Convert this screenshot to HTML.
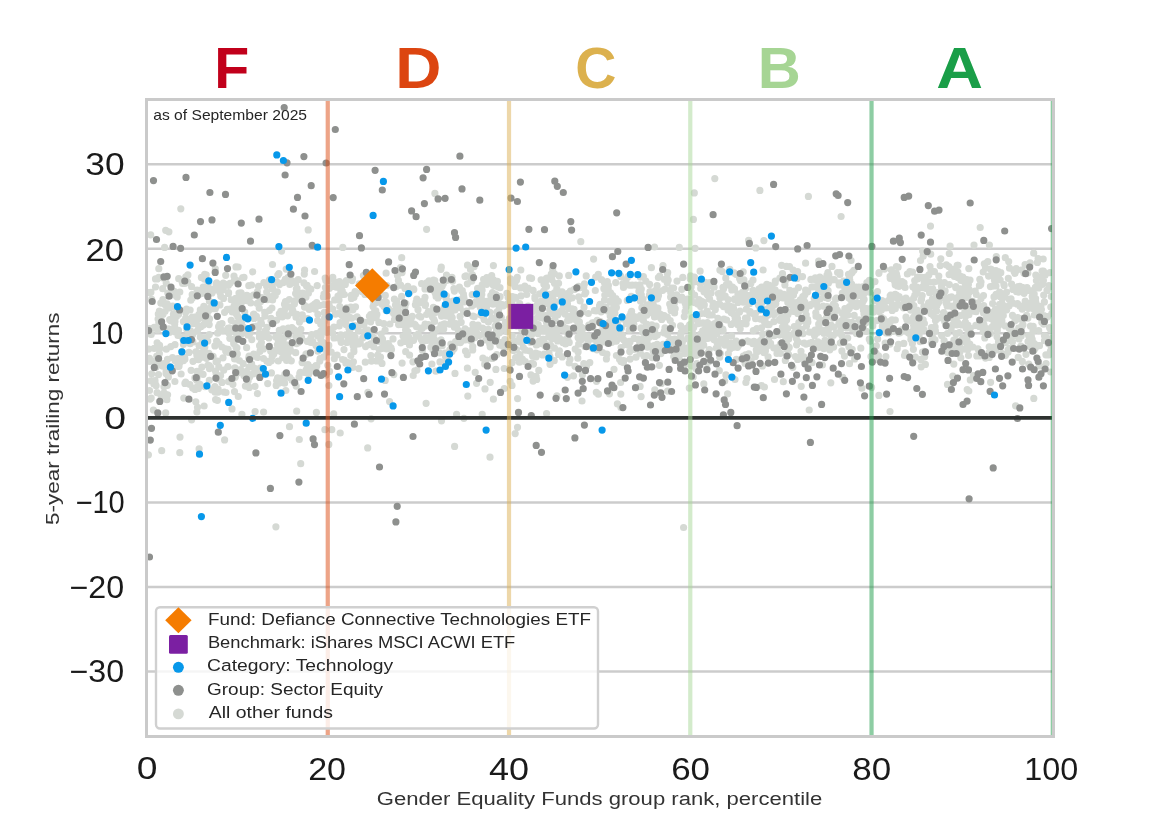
<!DOCTYPE html>
<html><head><meta charset="utf-8"><style>
html,body{margin:0;padding:0;background:#fff;}
svg{display:block;font-family:"Liberation Sans", "DejaVu Sans", sans-serif;}
</style></head><body>
<svg width="1170" height="827" viewBox="0 0 1170 827">
<defs><clipPath id="pc"><rect x="146.5" y="99.5" width="907.0" height="637.0"/></clipPath></defs>
<rect width="1170" height="827" fill="#fff"/>
<line x1="146.5" x2="1053.5" y1="671.49" y2="671.49" stroke="#cccccc" stroke-width="2.5"/>
<line x1="146.5" x2="1053.5" y1="586.96" y2="586.96" stroke="#cccccc" stroke-width="2.5"/>
<line x1="146.5" x2="1053.5" y1="502.43" y2="502.43" stroke="#cccccc" stroke-width="2.5"/>
<line x1="146.5" x2="1053.5" y1="333.37" y2="333.37" stroke="#cccccc" stroke-width="2.5"/>
<line x1="146.5" x2="1053.5" y1="248.84" y2="248.84" stroke="#cccccc" stroke-width="2.5"/>
<line x1="146.5" x2="1053.5" y1="164.31" y2="164.31" stroke="#cccccc" stroke-width="2.5"/>
<g clip-path="url(#pc)" stroke-linecap="round" stroke-width="7.2" fill="none">
<path stroke="#d5d9d4" d="M418.0 309.7h0M659.7 276.2h0M539.4 341.1h0M319.7 305.3h0M316.0 345.4h0M355.1 337.3h0M203.6 351.4h0M1022.4 287.4h0M408.6 337.0h0M234.7 331.8h0M367.9 392.3h0M446.7 314.0h0M762.7 334.0h0M209.2 324.6h0M709.7 282.7h0M956.1 303.5h0M869.7 292.1h0M477.0 333.7h0M768.1 315.1h0M317.9 314.3h0M222.0 382.4h0M644.7 356.5h0M628.6 345.3h0M296.0 317.2h0M885.9 356.6h0M427.2 285.1h0M842.3 340.8h0M351.7 310.0h0M747.5 341.1h0M480.7 314.8h0M422.6 341.7h0M716.7 333.7h0M775.2 282.7h0M173.4 314.4h0M655.4 290.6h0M865.7 290.7h0M857.6 303.2h0M699.0 299.7h0M337.9 313.7h0M601.9 337.0h0M432.5 316.9h0M816.5 287.2h0M827.0 275.2h0M498.1 300.5h0M690.9 324.2h0M607.4 329.6h0M236.1 280.1h0M853.9 270.3h0M679.2 355.7h0M544.1 354.0h0M879.0 272.6h0M489.7 343.9h0M339.5 281.7h0M647.2 340.3h0M271.3 360.8h0M783.1 333.8h0M510.6 282.8h0M980.9 353.7h0M257.4 291.8h0M723.9 319.1h0M386.1 310.5h0M702.7 323.0h0M243.0 326.9h0M896.4 266.5h0M897.5 298.4h0M159.7 348.6h0M238.2 321.9h0M278.3 361.0h0M993.0 313.2h0M891.9 309.6h0M216.6 282.8h0M511.9 302.4h0M734.5 288.9h0M960.9 280.5h0M159.6 345.4h0M447.4 313.2h0M158.5 374.6h0M616.2 320.4h0M185.8 276.8h0M998.5 341.8h0M521.6 338.6h0M228.5 293.6h0M773.9 304.9h0M809.7 343.0h0M768.3 289.3h0M765.1 320.9h0M277.4 344.8h0M1045.9 354.8h0M934.8 301.5h0M703.3 302.2h0M448.2 355.9h0M496.6 319.1h0M253.7 354.0h0M605.6 341.8h0M827.5 293.0h0M870.9 356.6h0M616.3 341.2h0M965.7 325.9h0M925.8 284.9h0M269.5 279.9h0M660.6 318.1h0M958.3 276.5h0M327.0 332.3h0M691.3 356.0h0M797.6 359.4h0M444.5 323.8h0M389.6 401.6h0M158.8 268.7h0M541.7 343.7h0M151.2 334.5h0M929.2 281.9h0M155.0 380.5h0M696.1 368.8h0M496.8 331.3h0M149.6 361.3h0M967.9 325.2h0M549.2 300.4h0M917.1 290.9h0M438.6 296.7h0M682.8 277.4h0M860.5 321.8h0M586.2 275.9h0M416.8 299.0h0M689.1 302.3h0M163.7 363.7h0M267.5 299.7h0M913.8 326.8h0M960.1 315.7h0M543.4 317.3h0M332.6 332.9h0M699.5 338.2h0M1027.8 273.0h0M959.7 292.7h0M406.5 341.3h0M1032.2 339.3h0M610.6 339.9h0M320.7 339.4h0M305.8 294.5h0M376.8 292.3h0M683.1 349.1h0M319.8 360.9h0M742.5 292.4h0M199.0 345.6h0M315.9 365.6h0M191.1 370.3h0M657.1 285.6h0M282.1 313.7h0M721.3 329.9h0M1033.2 308.7h0M654.5 317.0h0M538.6 354.0h0M657.2 312.3h0M1019.7 288.7h0M640.8 317.5h0M283.1 282.7h0M844.0 286.1h0M986.2 318.2h0M471.8 281.1h0M843.6 321.6h0M436.9 293.3h0M486.8 277.6h0M604.4 282.4h0M797.6 341.4h0M863.2 301.1h0M559.4 338.2h0M402.1 272.6h0M539.2 313.8h0M1033.3 344.0h0M702.7 330.9h0M600.9 304.8h0M554.4 283.0h0M768.6 339.7h0M556.2 328.8h0M521.0 295.9h0M783.9 294.4h0M371.5 334.8h0M212.0 292.9h0M418.9 303.2h0M966.1 328.1h0M547.6 304.0h0M215.6 307.2h0M719.9 270.1h0M408.7 324.1h0M507.5 324.9h0M253.0 373.9h0M883.6 318.9h0M667.2 282.7h0M218.8 366.9h0M920.9 301.0h0M181.1 358.1h0M433.7 334.0h0M204.3 337.8h0M618.3 301.3h0M310.9 342.5h0M519.7 303.7h0M649.6 284.4h0M459.4 287.1h0M640.4 294.6h0M859.8 334.3h0M696.4 339.0h0M766.6 296.8h0M362.7 338.0h0M302.1 362.6h0M190.2 323.3h0M741.3 300.8h0M379.1 349.5h0M587.9 336.3h0M680.6 325.9h0M768.3 299.9h0M204.7 274.3h0M912.5 272.1h0M445.7 362.9h0M166.1 385.3h0M509.3 318.6h0M911.5 303.6h0M658.0 349.1h0M946.8 314.9h0M1034.3 300.9h0M241.9 321.2h0M1014.9 320.8h0M568.4 296.7h0M629.0 322.5h0M164.0 392.8h0M578.1 351.9h0M595.7 277.2h0M179.5 363.5h0M797.1 278.4h0M255.0 386.3h0M762.4 365.9h0M603.9 331.7h0M228.1 349.4h0M1038.8 287.9h0M743.2 271.8h0M850.1 290.2h0M295.7 352.7h0M725.8 278.2h0M376.4 302.4h0M970.0 280.1h0M777.0 331.7h0M567.4 332.2h0M665.0 289.0h0M736.2 341.2h0M670.7 307.3h0M495.2 326.2h0M629.3 285.1h0M535.8 353.2h0M457.4 340.9h0M610.6 300.9h0M1041.0 277.1h0M844.0 318.4h0M949.3 284.6h0M364.5 331.9h0M549.0 299.1h0M745.9 288.0h0M629.9 316.7h0M236.2 323.8h0M930.9 313.6h0M555.9 301.8h0M515.3 297.3h0M801.0 351.3h0M277.6 377.8h0M175.7 332.2h0M696.9 363.6h0M298.9 337.2h0M287.6 315.8h0M1041.4 309.6h0M505.4 322.7h0M818.6 261.1h0M461.9 301.4h0M1002.3 298.8h0M537.7 303.9h0M412.9 361.8h0M554.2 360.7h0M957.2 265.4h0M350.5 337.2h0M651.8 324.9h0M704.3 304.9h0M953.5 307.6h0M571.7 308.9h0M732.8 345.1h0M268.9 337.9h0M608.2 311.3h0M814.7 298.9h0M223.3 283.2h0M377.8 355.0h0M967.2 389.5h0M965.1 283.2h0M961.3 280.1h0M531.6 278.3h0M922.2 295.6h0M271.4 372.9h0M755.3 356.4h0M649.6 336.9h0M228.9 333.0h0M629.4 322.7h0M514.8 341.3h0M644.6 340.8h0M786.2 335.5h0M785.9 313.1h0M295.8 283.3h0M960.1 305.4h0M515.4 349.9h0M209.4 301.2h0M435.9 312.1h0M789.8 290.4h0M957.6 304.0h0M784.9 325.2h0M515.6 357.5h0M735.1 317.6h0M536.9 305.3h0M663.4 350.4h0M1019.9 286.3h0M216.1 373.8h0M312.9 341.9h0M148.8 292.6h0M345.3 284.4h0M901.7 305.4h0M270.8 283.5h0M431.9 364.0h0M612.2 312.1h0M246.8 300.7h0M584.0 307.2h0M272.0 296.6h0M914.9 295.0h0M851.6 284.1h0M777.9 312.1h0M653.0 311.2h0M674.6 313.0h0M223.1 288.7h0M157.2 278.9h0M214.9 345.9h0M1033.3 301.1h0M768.7 293.0h0M989.1 356.0h0M631.6 316.2h0M684.0 349.6h0M430.4 287.0h0M773.9 321.7h0M740.1 278.6h0M160.0 364.4h0M611.3 325.4h0M576.2 320.1h0M869.3 339.2h0M201.1 326.6h0M623.4 362.6h0M812.1 362.7h0M924.2 351.3h0M894.5 281.1h0M764.4 387.0h0M996.5 279.3h0M1001.5 314.0h0M903.5 307.8h0M1007.8 335.9h0M480.3 307.2h0M713.9 339.6h0M968.4 284.4h0M197.1 377.8h0M1003.9 284.5h0M183.6 360.6h0M996.1 294.3h0M716.2 348.0h0M341.9 286.1h0M1039.5 286.1h0M913.8 305.6h0M285.6 344.6h0M777.0 299.2h0M736.0 274.3h0M652.3 357.7h0M519.1 323.4h0M574.0 309.4h0M238.3 396.5h0M933.7 302.4h0M401.5 319.9h0M745.9 382.5h0M858.4 295.4h0M707.4 322.5h0M959.4 332.5h0M498.5 314.2h0M951.2 328.4h0M149.5 390.5h0M341.4 294.6h0M688.1 327.8h0M764.1 352.7h0M405.0 288.4h0M747.0 302.2h0M195.7 316.8h0M651.5 301.2h0M325.8 280.4h0M463.5 311.6h0M471.2 340.9h0M663.1 344.3h0M394.4 299.2h0M516.3 318.0h0M490.2 346.8h0M329.0 304.1h0M477.4 303.5h0M323.2 342.7h0M671.8 288.2h0M546.4 322.0h0M964.8 312.2h0M335.4 314.1h0M864.1 299.4h0M285.1 309.1h0M796.8 329.9h0M926.0 277.0h0M182.6 283.5h0M641.4 339.5h0M551.0 331.3h0M547.0 278.0h0M169.7 319.7h0M544.9 345.6h0M979.7 308.3h0M275.3 295.4h0M347.9 336.5h0M732.9 347.5h0M185.0 338.4h0M295.4 300.6h0M691.5 366.0h0M396.7 301.4h0M965.9 295.3h0M381.1 288.5h0M723.0 287.3h0M753.0 341.8h0M289.3 299.5h0M610.2 316.1h0M241.4 302.5h0M558.4 293.4h0M824.2 294.4h0M917.6 277.0h0M341.2 342.3h0M348.0 362.5h0M185.7 312.2h0M373.1 306.6h0M726.6 320.0h0M203.2 287.1h0M716.8 304.5h0M1043.7 295.1h0M898.2 304.3h0M588.3 341.1h0M659.4 365.3h0M386.6 349.0h0M568.5 308.4h0M474.5 304.3h0M989.2 346.8h0M854.3 305.5h0M201.4 277.4h0M580.9 340.0h0M318.0 336.2h0M878.5 355.9h0M533.1 290.4h0M472.4 274.8h0M852.2 349.3h0M588.8 325.0h0M328.8 345.4h0M683.7 366.0h0M292.0 380.2h0M199.0 314.3h0M552.1 313.4h0M853.1 327.1h0M334.7 299.9h0M692.7 319.1h0M477.6 288.4h0M757.6 348.8h0M999.1 310.5h0M871.8 320.4h0M710.6 336.6h0M370.9 355.5h0M972.6 301.4h0M165.0 304.6h0M459.4 305.2h0M278.4 350.6h0M769.2 307.8h0M815.4 295.7h0M484.1 303.9h0M283.7 313.1h0M279.3 313.9h0M1010.0 340.4h0M674.8 339.2h0M304.8 305.6h0M260.0 351.3h0M285.8 390.5h0M934.5 306.2h0M426.4 340.4h0M523.3 347.5h0M536.1 376.4h0M723.1 330.4h0M725.8 343.8h0M805.6 263.2h0M777.0 353.5h0M783.6 331.5h0M886.1 308.0h0M1045.0 275.2h0M947.5 352.3h0M849.5 363.7h0M257.4 393.6h0M538.8 370.4h0M532.3 311.7h0M331.2 352.2h0M793.2 311.3h0M434.8 280.7h0M444.1 312.7h0M1024.0 292.7h0M658.4 277.5h0M502.3 328.6h0M592.8 327.3h0M641.1 396.6h0M700.1 271.2h0M623.9 340.0h0M875.5 295.0h0M528.4 324.8h0M208.1 284.5h0M357.7 341.8h0M728.7 284.0h0M941.6 335.6h0M178.5 330.3h0M209.5 318.9h0M627.3 300.4h0M299.2 297.9h0M773.7 347.8h0M761.5 327.8h0M168.6 328.8h0M769.0 298.2h0M476.6 383.3h0M1028.8 364.2h0M355.5 306.8h0M819.0 325.6h0M630.9 313.2h0M277.3 291.8h0M756.7 352.2h0M620.6 382.5h0M532.2 307.4h0M904.0 300.1h0M739.6 278.6h0M640.9 290.5h0M755.6 318.7h0M1021.2 336.0h0M993.8 319.8h0M543.1 330.8h0M677.0 281.1h0M760.0 298.9h0M433.9 319.5h0M696.7 339.2h0M962.2 339.2h0M497.4 281.4h0M236.4 314.1h0M933.3 315.4h0M823.8 348.6h0M737.6 323.4h0M854.2 315.3h0M503.5 305.8h0M620.9 407.5h0M304.3 274.1h0M713.1 303.2h0M706.5 288.7h0M376.2 317.8h0M644.7 327.4h0M315.9 368.4h0M315.1 309.2h0M737.4 347.3h0M261.7 297.5h0M848.1 315.0h0M582.3 312.0h0M418.2 334.2h0M996.0 286.0h0M352.5 278.7h0M454.4 291.1h0M880.6 304.0h0M550.4 361.9h0M185.6 382.2h0M755.4 313.7h0M1028.6 335.6h0M775.1 289.8h0M307.6 318.6h0M948.0 345.1h0M488.4 322.0h0M217.7 333.2h0M199.9 384.3h0M326.0 374.9h0M881.4 310.1h0M988.0 316.9h0M813.9 344.4h0M672.5 325.3h0M556.8 288.7h0M640.0 284.9h0M184.9 283.5h0M506.2 345.6h0M280.8 311.4h0M569.2 342.4h0M442.2 345.7h0M230.0 283.3h0M1048.4 343.6h0M338.0 296.1h0M380.5 357.2h0M186.8 329.6h0M323.5 326.2h0M698.2 323.6h0M605.7 309.2h0M161.5 320.8h0M694.6 302.6h0M958.1 277.7h0M231.2 320.3h0M828.3 330.4h0M912.1 331.5h0M486.7 284.3h0M722.3 271.6h0M481.1 299.0h0M531.8 334.6h0M988.7 331.3h0M1003.3 315.5h0M650.3 346.2h0M820.9 283.5h0M768.2 313.6h0M425.5 304.7h0M640.1 386.4h0M947.5 384.4h0M992.6 273.9h0M404.9 307.0h0M487.3 301.4h0M408.0 331.9h0M287.9 277.5h0M458.4 330.7h0M849.8 275.8h0M804.0 300.5h0M612.2 323.4h0M609.4 322.1h0M301.6 337.7h0M614.0 369.3h0M467.8 396.1h0M209.3 365.7h0M162.8 366.2h0M650.0 291.5h0M406.7 326.1h0M346.5 319.3h0M1050.6 329.6h0M704.0 291.8h0M825.2 348.0h0M472.3 294.7h0M1034.3 343.7h0M244.6 318.0h0M583.8 287.1h0M156.8 356.2h0M283.4 377.8h0M938.2 303.0h0M496.4 337.3h0M911.4 309.1h0M537.7 317.1h0M309.3 309.5h0M237.4 372.9h0M475.9 301.7h0M493.4 265.6h0M997.1 331.0h0M515.7 297.8h0M175.0 321.5h0M450.9 352.1h0M890.2 278.3h0M242.7 277.7h0M570.4 291.1h0M707.9 338.3h0M579.3 315.0h0M802.9 333.7h0M543.7 291.1h0M641.9 307.7h0M368.0 330.2h0M922.6 251.1h0M833.1 318.0h0M707.3 283.6h0M774.5 379.5h0M768.1 356.9h0M216.1 361.8h0M329.5 371.4h0M320.9 331.0h0M206.7 288.5h0M938.6 318.1h0M372.2 279.5h0M662.6 290.5h0M665.0 327.9h0M167.4 385.3h0M766.9 296.4h0M192.9 341.9h0M278.5 336.7h0M438.0 290.4h0M593.6 259.1h0M536.7 345.0h0M220.8 296.3h0M1001.6 353.4h0M520.8 270.0h0M629.7 315.8h0M389.5 310.0h0M178.7 360.6h0M486.1 359.9h0M532.6 356.0h0M346.7 307.8h0M198.8 371.3h0M1047.0 290.4h0M620.8 276.1h0M183.4 321.6h0M654.1 345.7h0M193.4 323.6h0M807.7 291.8h0M243.1 363.6h0M707.1 294.3h0M1027.0 287.6h0M244.0 277.3h0M1051.2 347.3h0M158.1 319.0h0M150.9 292.3h0M580.9 326.8h0M1027.9 318.1h0M895.1 283.3h0M634.1 338.4h0M654.8 389.9h0M381.2 334.0h0M472.7 349.9h0M386.3 302.4h0M485.0 388.9h0M562.9 342.4h0M606.9 354.2h0M713.7 325.9h0M159.9 319.4h0M852.5 301.8h0M1001.8 340.5h0M795.8 332.1h0M465.1 328.9h0M616.5 328.5h0M906.0 317.2h0M227.2 309.4h0M815.3 277.8h0M896.5 295.1h0M759.6 350.7h0M291.7 280.5h0M1009.2 328.3h0M616.4 307.4h0M642.6 307.2h0M767.6 324.7h0M828.1 290.7h0M312.7 368.4h0M707.3 327.0h0M449.9 349.9h0M634.5 316.7h0M449.5 324.2h0M874.9 300.9h0M384.1 306.6h0M279.7 347.0h0M697.3 318.5h0M276.2 385.4h0M765.6 316.9h0M377.0 296.8h0M858.4 290.5h0M892.0 319.9h0M638.1 339.0h0M248.2 296.1h0M833.8 327.0h0M682.4 342.0h0M543.4 328.3h0M913.4 349.3h0M389.0 345.7h0M692.2 347.1h0M461.6 290.7h0M334.3 358.7h0M701.7 313.5h0M316.9 304.6h0M388.1 343.5h0M513.8 283.1h0M266.9 361.2h0M953.9 340.2h0M905.2 330.2h0M323.8 304.7h0M603.9 337.8h0M723.2 340.9h0M946.8 301.2h0M720.4 353.6h0M564.2 340.1h0M592.9 348.6h0M205.9 308.8h0M541.4 301.0h0M174.4 293.6h0M585.3 292.8h0M299.8 373.3h0M976.1 311.7h0M326.7 352.2h0M649.2 311.5h0M358.1 329.3h0M385.2 380.4h0M306.2 369.8h0M583.1 328.4h0M719.3 370.7h0M296.7 343.6h0M857.0 293.5h0M606.4 358.9h0M245.4 386.1h0M383.8 323.7h0M775.3 281.0h0M1029.0 303.5h0M633.4 298.2h0M849.7 292.2h0M996.5 316.5h0M377.9 296.9h0M655.9 290.4h0M203.3 308.0h0M538.2 324.7h0M325.4 287.5h0M416.1 302.0h0M218.6 326.7h0M1043.5 322.8h0M179.0 366.3h0M743.1 302.1h0M625.8 344.0h0M200.7 345.1h0M750.6 302.1h0M667.4 273.7h0M640.4 316.8h0M689.9 364.5h0M450.9 344.0h0M401.7 257.7h0M1043.2 259.0h0M747.3 341.0h0M640.2 353.2h0M832.1 280.0h0M889.7 321.7h0M766.8 284.3h0M787.8 302.5h0M281.1 351.7h0M327.4 295.9h0M171.0 321.0h0M397.4 275.3h0M794.5 308.4h0M553.3 327.8h0M758.5 305.1h0M756.9 328.6h0M285.5 301.5h0M269.6 310.3h0M1011.0 298.8h0M450.9 314.6h0M249.1 356.1h0M320.1 358.6h0M1006.5 292.2h0M305.9 354.5h0M700.7 288.5h0M1017.0 303.9h0M935.4 330.9h0M234.5 391.6h0M1035.8 275.1h0M208.0 365.0h0M514.5 317.7h0M260.1 368.1h0M289.9 377.6h0M856.2 306.7h0M218.2 392.1h0M912.8 286.8h0M630.1 359.1h0M557.9 314.8h0M706.8 368.7h0M745.1 363.5h0M639.6 342.1h0M952.8 376.1h0M342.3 315.7h0M784.6 330.3h0M842.1 312.9h0M719.4 343.6h0M602.6 352.5h0M434.5 313.1h0M1035.7 301.9h0M656.5 297.1h0M876.4 345.8h0M764.3 321.6h0M738.0 302.4h0M203.2 325.1h0M263.5 358.5h0M215.3 268.9h0M516.4 349.7h0M657.3 335.1h0M782.4 327.2h0M391.0 347.8h0M985.5 358.1h0M941.1 290.8h0M623.7 360.5h0M522.4 359.0h0M792.8 367.3h0M213.7 289.0h0M871.6 387.4h0M913.6 317.0h0M190.1 310.0h0M921.2 366.8h0M260.7 301.4h0M220.2 293.1h0M653.2 304.6h0M515.9 320.7h0M1044.5 340.7h0M700.7 334.1h0M946.2 347.6h0M698.7 345.5h0M157.5 329.9h0M435.9 371.2h0M403.1 336.0h0M575.2 349.1h0M774.2 294.1h0M1033.5 299.8h0M823.0 343.4h0M817.8 332.3h0M482.5 313.9h0M997.3 330.4h0M299.0 377.1h0M967.9 296.2h0M409.7 292.5h0M859.2 304.6h0M295.8 336.4h0M597.1 340.6h0M346.2 324.7h0M275.1 292.4h0M719.4 293.4h0M156.1 367.1h0M819.0 347.5h0M272.0 352.7h0M196.6 387.3h0M288.4 376.5h0M151.1 334.5h0M686.9 351.6h0M919.6 277.1h0M279.3 330.3h0M266.0 298.9h0M260.2 299.0h0M568.7 275.4h0M1002.0 303.5h0M959.3 348.6h0M267.0 327.4h0M1042.3 284.3h0M683.0 363.8h0M1016.6 291.7h0M619.5 359.3h0M508.1 297.3h0M298.0 342.8h0M455.0 373.4h0M198.8 318.7h0M747.2 318.7h0M195.8 401.8h0M528.2 306.2h0M578.7 344.2h0M954.4 276.5h0M708.0 334.0h0M365.6 346.6h0M534.9 298.4h0M506.6 346.5h0M795.4 356.6h0M194.9 377.9h0M567.1 297.7h0M1039.5 345.7h0M594.2 336.5h0M436.4 329.9h0M229.6 327.8h0M792.8 305.6h0M713.5 338.1h0M645.8 281.1h0M172.6 306.1h0M961.4 276.6h0M991.6 269.5h0M237.6 316.1h0M961.4 279.8h0M323.6 356.9h0M867.7 319.3h0M748.8 295.7h0M990.2 333.4h0M234.9 377.5h0M257.7 303.0h0M589.8 362.6h0M300.3 372.4h0M839.9 272.7h0M841.6 335.1h0M921.1 331.1h0M776.6 299.6h0M235.7 338.3h0M778.0 347.5h0M426.4 338.0h0M796.6 344.8h0M238.0 309.6h0M549.7 330.7h0M608.6 311.4h0M197.1 290.0h0M911.2 321.2h0M1002.6 310.9h0M855.2 305.8h0M184.9 383.4h0M533.8 321.8h0M1051.3 296.5h0M876.0 353.2h0M496.7 354.7h0M264.9 316.1h0M533.5 364.1h0M491.7 275.7h0M287.1 347.6h0M416.5 326.7h0M769.5 296.4h0M670.2 320.5h0M884.6 306.5h0M794.5 276.0h0M420.8 316.9h0M760.5 319.1h0M897.1 284.0h0M852.1 302.7h0M959.7 346.9h0M941.3 292.9h0M1013.8 335.8h0M279.0 335.0h0M744.9 293.8h0M1004.5 306.1h0M402.1 363.1h0M626.5 323.7h0M563.6 327.1h0M568.1 336.3h0M764.6 292.3h0M1018.2 357.4h0M840.3 343.0h0M545.4 296.1h0M225.7 351.1h0M734.8 321.9h0M300.3 294.2h0M953.8 364.1h0M1050.3 286.7h0M823.2 306.1h0M574.3 289.4h0M805.2 319.5h0M724.9 345.1h0M847.5 284.1h0M308.0 364.6h0M844.5 356.1h0M411.2 318.5h0M948.8 266.6h0M512.3 336.0h0M641.0 327.9h0M196.9 380.5h0M298.2 332.8h0M1048.9 285.6h0M663.0 346.5h0M963.2 290.4h0M973.5 375.7h0M872.8 326.0h0M204.9 386.6h0M316.5 333.7h0M482.9 358.2h0M895.6 305.6h0M969.8 344.2h0M425.1 324.2h0M646.8 355.6h0M208.3 287.5h0M732.9 308.7h0M677.1 352.1h0M1008.1 349.9h0M802.5 276.6h0M1008.3 278.3h0M644.0 356.1h0M726.2 284.9h0M414.2 324.0h0M278.9 273.5h0M271.9 308.0h0M585.0 346.5h0M856.8 296.0h0M988.6 276.1h0M935.1 326.9h0M567.5 304.1h0M983.5 295.6h0M909.3 302.5h0M968.8 391.0h0M370.6 315.5h0M551.8 279.4h0M791.5 301.0h0M759.1 297.0h0M689.3 388.1h0M960.7 306.1h0M300.9 372.5h0M903.8 343.4h0M617.4 403.8h0M192.2 294.6h0M257.0 326.0h0M913.8 297.9h0M601.5 279.7h0M792.2 311.1h0M1052.0 338.1h0M701.3 301.1h0M707.5 353.3h0M275.9 336.9h0M957.9 272.1h0M733.5 308.1h0M219.0 343.9h0M685.2 303.2h0M801.5 355.6h0M410.5 341.3h0M623.3 319.2h0M882.0 300.7h0M343.3 314.9h0M264.4 336.3h0M700.1 283.6h0M413.2 375.5h0M297.0 314.3h0M640.5 315.4h0M542.5 339.3h0M1033.0 331.2h0M658.5 295.4h0M848.7 297.8h0M1021.1 318.7h0M890.1 276.3h0M674.3 300.4h0M513.6 310.7h0M360.4 320.2h0M393.0 338.9h0M351.6 318.2h0M1021.1 328.5h0M905.1 287.5h0M414.9 370.8h0M947.4 333.5h0M311.7 334.7h0M203.1 374.3h0M251.8 339.6h0M897.3 285.9h0M1015.6 405.8h0M700.3 338.8h0M466.5 311.0h0M284.1 378.3h0M786.9 312.9h0M554.3 273.6h0M435.3 293.3h0M711.1 293.1h0M512.0 325.8h0M352.9 309.8h0M285.3 279.4h0M786.5 266.4h0M440.3 290.7h0M348.9 328.2h0M202.1 339.1h0M573.2 312.2h0M554.7 283.5h0M315.6 304.5h0M836.4 298.1h0M661.0 314.9h0M675.2 308.7h0M768.1 296.6h0M971.3 308.3h0M433.5 280.2h0M966.3 284.1h0M425.5 337.5h0M796.6 302.6h0M379.2 360.3h0M470.2 330.7h0M872.3 356.9h0M341.8 284.7h0M657.1 344.3h0M969.1 311.0h0M898.5 344.3h0M257.3 357.4h0M965.5 297.2h0M530.8 342.5h0M1021.7 326.2h0M607.8 293.4h0M871.0 285.4h0M756.3 349.8h0M158.3 314.0h0M648.8 345.5h0M731.2 312.6h0M928.0 307.4h0M779.6 319.3h0M158.8 277.4h0M907.4 274.0h0M369.4 316.3h0M952.7 349.7h0M968.9 314.7h0M833.6 346.8h0M355.5 294.2h0M805.7 309.6h0M746.3 302.3h0M990.6 269.2h0M212.5 302.7h0M396.0 316.0h0M714.8 308.0h0M598.4 394.2h0M759.1 288.9h0M426.6 314.5h0M464.2 302.0h0M987.8 261.7h0M595.0 338.3h0M599.5 305.9h0M997.1 321.4h0M158.8 322.5h0M440.9 269.3h0M202.3 341.3h0M500.1 296.7h0M426.1 403.3h0M690.2 278.8h0M798.3 342.0h0M284.5 304.3h0M605.8 342.2h0M931.0 313.3h0M218.1 389.0h0M268.5 298.2h0M538.4 329.2h0M150.2 399.1h0M309.2 307.0h0M552.1 330.3h0M950.6 306.1h0M291.9 327.7h0M795.9 330.6h0M984.3 263.8h0M701.0 348.2h0M617.1 332.5h0M970.3 328.4h0M558.6 283.3h0M184.9 340.1h0M370.7 314.6h0M525.9 319.8h0M259.2 308.1h0M544.2 291.9h0M935.0 339.9h0M846.9 327.9h0M703.7 345.2h0M150.2 332.1h0M563.4 306.2h0M850.5 299.4h0M166.0 364.6h0M497.1 300.9h0M1022.1 269.8h0M763.1 270.0h0M505.4 329.1h0M815.8 312.8h0M401.6 296.4h0M841.5 320.8h0M484.3 313.3h0M462.3 290.5h0M911.9 319.8h0M507.0 331.4h0M1031.5 307.3h0M656.5 291.3h0M760.0 307.8h0M1033.7 253.2h0M237.3 353.9h0M396.5 309.5h0M832.0 266.4h0M340.5 339.6h0M558.5 354.4h0M1025.2 301.2h0M209.3 334.6h0M596.1 346.2h0M657.7 298.3h0M1033.8 398.4h0M190.8 300.2h0M712.9 306.6h0M190.5 330.8h0M266.7 292.0h0M862.9 286.9h0M600.0 336.9h0M556.3 332.9h0M807.6 319.4h0M655.0 336.4h0M946.2 303.3h0M605.2 329.3h0M911.1 305.9h0M754.0 341.4h0M895.2 294.4h0M519.7 337.4h0M425.2 305.5h0M788.6 354.6h0M519.4 362.2h0M680.7 299.9h0M898.9 286.3h0M766.9 285.3h0M794.8 291.2h0M573.5 375.8h0M1018.3 286.6h0M962.8 277.2h0M958.4 296.9h0M483.8 329.2h0M426.5 284.6h0M914.3 332.5h0M385.1 330.0h0M466.0 275.9h0M1038.6 285.6h0M663.0 265.6h0M881.0 331.6h0M843.8 317.1h0M766.0 298.8h0M909.9 271.6h0M346.8 342.4h0M717.9 318.3h0M1050.4 351.3h0M157.1 342.8h0M372.2 295.5h0M1022.9 324.7h0M246.3 332.7h0M464.1 299.2h0M752.7 343.6h0M569.6 319.9h0M333.1 286.4h0M807.9 322.0h0M465.0 276.4h0M303.0 319.0h0M798.4 329.0h0M467.4 283.8h0M393.7 313.6h0M446.4 295.8h0M940.2 265.6h0M509.0 303.7h0M604.8 295.1h0M495.9 294.6h0M915.4 294.6h0M931.0 313.5h0M579.4 321.9h0M197.8 373.3h0M217.6 378.8h0M761.6 339.5h0M198.3 290.3h0M990.4 286.6h0M158.0 355.9h0M471.2 279.0h0M1035.4 287.3h0M771.7 291.1h0M724.7 381.0h0M405.6 329.9h0M174.7 327.7h0M200.3 337.0h0M931.4 327.5h0M551.7 330.9h0M824.1 333.5h0M613.0 301.4h0M219.6 330.5h0M513.0 319.7h0M580.1 287.7h0M562.3 356.9h0M945.1 290.9h0M578.0 322.9h0M1005.3 257.7h0M653.8 296.3h0M475.2 372.3h0M758.9 346.8h0M728.9 283.8h0M516.1 319.7h0M202.7 357.1h0M537.8 333.6h0M1030.1 338.3h0M353.4 361.8h0M467.2 354.7h0M497.1 297.3h0M994.3 347.2h0M360.3 341.7h0M612.9 308.9h0M531.1 317.8h0M334.3 286.5h0M924.4 323.5h0M271.5 296.5h0M804.3 359.2h0M1011.3 329.7h0M350.2 329.3h0M915.5 313.1h0M538.4 307.7h0M386.1 273.2h0M358.4 330.5h0M721.6 342.9h0M484.1 319.6h0M155.5 287.0h0M801.2 386.3h0M1019.1 337.1h0M289.9 346.4h0M1038.1 286.6h0M1000.2 280.0h0M440.6 328.8h0M788.7 339.0h0M573.0 316.9h0M162.9 299.5h0M684.3 316.6h0M952.2 269.0h0M960.7 291.0h0M760.8 298.2h0M220.6 375.6h0M201.9 367.1h0M327.8 365.3h0M223.0 357.8h0M870.2 341.2h0M737.8 324.7h0M898.1 267.2h0M979.4 326.4h0M251.2 356.6h0M424.2 300.3h0M811.8 304.2h0M752.1 296.8h0M148.7 349.1h0M316.8 365.9h0M339.2 326.0h0M1028.0 341.5h0M748.8 353.9h0M746.1 323.8h0M253.5 314.4h0M690.6 354.4h0M905.3 352.8h0M690.5 275.9h0M681.3 332.1h0M568.1 293.3h0M716.1 331.0h0M371.5 361.1h0M804.2 343.2h0M758.2 294.5h0M673.0 310.9h0M1005.3 325.9h0M584.5 283.9h0M743.9 279.9h0M1021.3 291.3h0M1022.4 306.3h0M781.6 265.3h0M794.3 326.5h0M157.1 392.7h0M848.5 322.4h0M731.6 287.4h0M272.2 356.6h0M263.4 348.9h0M166.0 364.9h0M983.2 272.0h0M348.8 336.2h0M474.3 333.3h0M534.9 296.9h0M714.2 323.8h0M351.0 340.7h0M455.9 323.7h0M788.0 314.4h0M198.4 388.4h0M725.9 374.9h0M834.8 316.3h0M876.8 320.6h0M496.3 320.2h0M473.0 335.8h0M311.8 367.6h0M619.2 328.4h0M1038.1 258.6h0M224.3 392.2h0M549.9 356.7h0M320.7 323.9h0M933.7 327.9h0M965.6 316.3h0M256.4 316.9h0M429.4 289.3h0M924.0 329.9h0M288.3 328.0h0M781.7 343.7h0M635.7 285.2h0M817.8 307.2h0M162.4 314.5h0M500.3 342.6h0M267.7 383.6h0M863.0 307.0h0M656.1 326.0h0M1044.5 335.8h0M282.7 357.7h0M742.9 323.3h0M908.3 332.8h0M510.5 278.9h0M204.8 347.3h0M596.1 311.0h0M902.0 281.7h0M416.0 335.4h0M453.2 301.1h0M1017.9 290.1h0M292.3 308.6h0M895.3 308.7h0M379.0 292.3h0M228.6 292.7h0M234.2 305.8h0M800.3 299.8h0M176.6 316.3h0M433.4 307.4h0M789.5 266.6h0M882.3 326.2h0M779.9 320.3h0M474.1 266.7h0M892.2 310.4h0M445.0 353.2h0M312.7 305.6h0M932.0 339.2h0M549.2 294.4h0M923.1 286.4h0M288.3 333.0h0M496.3 340.9h0M208.7 310.6h0M854.5 329.2h0M206.2 274.8h0M979.4 285.7h0M957.2 323.7h0M743.3 356.0h0M848.5 280.1h0M934.4 271.6h0M980.3 355.8h0M546.2 330.8h0M479.7 294.7h0M339.0 300.1h0M858.3 330.2h0M753.3 330.7h0M375.2 300.4h0M702.7 337.5h0M565.4 328.1h0M421.3 339.4h0M160.7 327.3h0M992.2 312.3h0M607.4 340.3h0M960.5 294.3h0M991.5 353.2h0M578.3 328.9h0M968.8 268.6h0M186.2 342.0h0M162.9 278.0h0M332.8 277.3h0M276.6 380.8h0M448.5 312.2h0M594.4 310.7h0M376.9 314.4h0M583.8 363.7h0M572.8 328.8h0M896.2 273.4h0M382.5 339.0h0M217.4 400.3h0M638.9 291.3h0M248.7 358.1h0M473.0 316.2h0M754.1 314.3h0M294.5 303.8h0M324.6 318.2h0M494.6 294.7h0M155.1 382.8h0M239.9 318.5h0M785.3 360.4h0M227.9 366.7h0M938.8 276.1h0M288.0 328.5h0M331.3 329.5h0M959.8 352.3h0M809.7 332.2h0M608.4 285.4h0M981.1 298.6h0M236.3 307.4h0M374.6 297.3h0M181.1 374.0h0M829.8 349.8h0M913.4 324.3h0M442.0 311.0h0M234.4 280.6h0M204.1 406.0h0M493.4 399.2h0M925.8 288.3h0M774.1 304.9h0M396.4 286.6h0M812.3 342.4h0M187.9 274.9h0M485.6 309.7h0M249.3 387.4h0M324.4 312.3h0M502.2 304.5h0M246.6 347.7h0M361.0 323.6h0M728.3 353.8h0M863.4 310.3h0M463.4 294.1h0M208.1 291.3h0M936.6 311.0h0M465.1 335.6h0M213.1 356.3h0M719.6 304.2h0M914.2 332.7h0M305.1 372.4h0M655.4 310.2h0M931.1 270.6h0M722.6 297.2h0M248.8 285.7h0M506.9 293.3h0M529.6 277.9h0M711.5 330.2h0M222.0 323.5h0M365.0 281.9h0M708.4 323.8h0M793.2 270.0h0M601.9 335.0h0M348.3 310.7h0M253.4 326.5h0M968.2 332.9h0M708.3 361.9h0M822.4 365.0h0M475.0 337.6h0M981.3 354.5h0M798.8 322.6h0M463.7 296.7h0M302.3 314.8h0M719.9 325.7h0M890.2 295.8h0M950.2 297.2h0M771.2 310.3h0M956.9 325.0h0M220.0 287.1h0M931.4 343.1h0M565.5 344.0h0M504.8 346.6h0M889.7 344.2h0M779.9 278.0h0M876.9 309.2h0M443.0 293.6h0M292.2 312.6h0M593.3 322.8h0M815.0 330.2h0M849.3 308.4h0M461.2 322.3h0M482.2 284.8h0M809.1 361.0h0M441.6 316.2h0M621.1 347.6h0M596.3 392.3h0M725.2 296.1h0M297.2 295.0h0M519.9 354.7h0M183.8 398.1h0M460.2 342.7h0M520.5 287.9h0M753.0 280.1h0M246.6 371.4h0M363.8 324.9h0M897.2 348.7h0M1009.0 306.0h0M910.8 310.2h0M966.3 286.0h0M641.3 294.9h0M344.2 360.0h0M653.2 351.2h0M765.5 309.4h0M643.4 276.5h0M215.6 399.6h0M923.2 256.2h0M513.6 350.4h0M621.5 328.1h0M501.3 317.5h0M260.8 320.5h0M317.6 320.6h0M166.2 283.1h0M1034.4 315.0h0M983.7 305.6h0M271.0 318.3h0M842.8 377.3h0M195.7 378.7h0M166.1 371.6h0M939.1 301.5h0M976.3 294.5h0M244.7 300.5h0M740.2 328.8h0M998.6 311.3h0M660.9 353.6h0M965.4 322.1h0M641.3 289.0h0M236.0 347.2h0M510.5 299.6h0M929.6 292.7h0M236.5 299.7h0M207.1 315.2h0M967.1 340.9h0M856.4 333.4h0M956.5 333.6h0M930.0 266.6h0M170.8 346.6h0M154.2 348.3h0M1047.4 316.7h0M148.1 332.0h0M789.5 335.5h0M912.4 343.4h0M261.4 342.6h0M977.5 303.0h0M546.5 286.5h0M236.0 266.9h0M920.2 341.7h0M842.3 293.2h0M567.0 301.8h0M796.3 338.2h0M819.8 277.0h0M1038.7 330.6h0M785.2 347.1h0M528.1 288.2h0M562.1 291.9h0M843.6 281.0h0M954.8 323.6h0M871.9 307.9h0M174.2 291.4h0M249.0 367.2h0M340.8 334.9h0M992.8 286.1h0M970.3 379.9h0M201.9 352.6h0M623.5 287.5h0M177.2 296.9h0M972.9 347.0h0M651.4 267.7h0M308.7 374.3h0M430.0 283.5h0M151.7 299.4h0M810.9 279.4h0M712.2 314.8h0M1003.8 307.2h0M749.9 313.0h0M492.0 302.1h0M283.2 328.9h0M1042.1 271.1h0M990.6 382.3h0M937.0 301.3h0M261.5 323.7h0M440.4 327.9h0M899.1 296.6h0M434.2 339.1h0M460.1 307.7h0M829.6 349.6h0M344.6 319.6h0M786.8 349.5h0M555.1 320.7h0M374.4 338.4h0M182.9 339.1h0M921.7 277.3h0M921.6 287.7h0M866.4 287.1h0M600.1 304.3h0M403.7 341.5h0M610.4 301.8h0M1048.8 355.0h0M512.2 362.4h0M412.3 316.3h0M932.7 288.8h0M799.9 310.6h0M700.6 306.4h0M162.7 288.7h0M312.0 342.5h0M1034.6 344.1h0M555.1 313.3h0M266.5 333.0h0M573.5 317.5h0M246.0 377.2h0M290.9 350.8h0M561.5 323.5h0M176.3 308.3h0M486.6 306.5h0M465.5 351.0h0M695.0 317.7h0M991.0 318.7h0M731.8 306.6h0M167.5 359.4h0M492.7 317.8h0M225.6 284.3h0M265.0 314.5h0M693.8 281.9h0M670.0 329.5h0M661.3 383.4h0M204.3 314.0h0M495.9 369.4h0M344.9 311.8h0M866.9 282.7h0M882.9 327.6h0M551.3 305.0h0M733.5 314.0h0M561.5 297.6h0M629.2 330.2h0M459.7 299.9h0M734.2 272.9h0M1043.6 324.2h0M436.1 296.5h0M917.5 327.6h0M595.3 290.5h0M268.9 362.4h0M1014.9 273.3h0M567.9 340.7h0M1012.5 315.4h0M592.0 347.6h0M703.0 322.9h0M603.9 288.8h0M940.8 258.8h0M600.5 342.7h0M149.5 328.7h0M921.4 323.5h0M572.2 297.8h0M654.7 329.8h0M264.7 312.3h0M852.1 272.4h0M1029.9 264.2h0M310.9 338.3h0M935.5 320.4h0M816.8 302.3h0M182.1 281.8h0M273.0 350.7h0M232.0 408.9h0M217.5 361.1h0M836.2 332.9h0M998.3 271.6h0M422.3 328.3h0M712.6 286.3h0M361.9 291.6h0M498.3 287.2h0M339.8 306.5h0M737.9 293.9h0M337.1 355.0h0M1026.7 315.3h0M242.2 298.4h0M774.0 335.7h0M471.6 279.9h0M484.3 334.2h0M178.0 335.5h0M467.7 339.7h0M554.8 335.1h0M391.5 349.5h0M646.8 315.1h0M373.2 299.8h0M472.6 337.3h0M849.8 280.3h0M1045.6 336.3h0M195.0 389.4h0M200.3 309.9h0M556.5 333.7h0M797.6 271.6h0M236.9 347.9h0M342.2 314.0h0M516.5 280.3h0M711.7 332.3h0M251.5 285.0h0M759.9 292.1h0M552.0 339.0h0M228.3 352.5h0M558.7 340.1h0M960.3 288.8h0M215.5 371.1h0M278.9 383.2h0M709.8 282.9h0M945.3 315.8h0M957.5 322.4h0M922.5 352.0h0M306.0 354.1h0M983.5 313.0h0M169.9 307.9h0M474.2 316.7h0M737.6 318.7h0M496.9 284.9h0M862.5 324.5h0M457.1 301.5h0M1041.7 318.9h0M765.4 350.9h0M709.3 349.5h0M196.9 412.0h0M504.9 339.5h0M514.4 342.1h0M288.5 358.7h0M859.0 319.8h0M246.9 295.4h0M728.1 299.6h0M852.3 322.3h0M717.0 342.5h0M686.8 328.0h0M833.8 305.7h0M695.0 350.6h0M670.6 297.1h0M354.6 325.5h0M272.7 289.1h0M663.8 350.6h0M794.0 333.1h0M858.9 287.2h0M232.9 384.3h0M440.4 312.9h0M925.4 364.4h0M793.5 295.1h0M873.4 311.9h0M812.0 286.9h0M824.1 281.0h0M631.2 296.3h0M960.8 357.8h0M661.7 319.4h0M830.8 382.8h0M565.0 314.1h0M327.3 304.6h0M536.3 344.9h0M876.0 308.4h0M896.5 281.4h0M430.9 347.2h0M483.4 302.9h0M533.1 381.1h0M884.5 269.1h0M452.6 281.1h0M447.9 316.1h0M736.4 359.4h0M969.1 292.6h0M578.6 286.4h0M761.5 287.2h0M881.4 317.3h0M554.4 292.8h0M874.6 309.6h0M499.2 307.0h0M628.3 276.4h0M703.8 383.9h0M955.5 320.7h0M429.0 280.8h0M223.7 370.2h0M827.9 272.7h0M815.5 334.1h0M539.7 293.8h0M512.0 385.4h0M655.0 307.4h0M785.7 342.3h0M968.0 349.1h0M809.2 410.0h0M633.1 317.2h0M866.8 308.6h0M727.6 393.8h0M352.7 367.5h0M719.7 357.2h0M441.0 339.9h0M434.6 283.9h0M545.6 315.6h0M645.4 338.6h0M779.8 292.9h0M915.9 331.1h0M496.5 328.3h0M607.3 281.5h0M266.4 285.8h0M363.4 275.6h0M351.4 298.4h0M820.1 319.9h0M1004.2 285.4h0M249.6 377.1h0M556.9 395.8h0M1022.0 326.4h0M259.4 337.2h0M664.4 279.5h0M964.2 291.7h0M825.3 330.0h0M759.8 341.4h0M323.8 349.0h0M166.3 349.2h0M827.7 277.1h0M1043.4 271.1h0M596.5 381.3h0M863.4 298.2h0M789.2 347.4h0M737.7 324.2h0M441.3 267.2h0M398.4 280.4h0M782.5 273.7h0M1009.5 268.2h0M769.2 324.6h0M198.5 359.7h0M905.4 330.7h0M304.5 307.1h0M547.8 297.6h0M833.4 335.3h0M455.0 310.0h0M561.3 340.2h0M704.6 329.8h0M350.8 307.2h0M376.6 360.9h0M905.9 298.1h0M292.9 311.2h0M434.8 292.1h0M1022.3 361.4h0M864.6 292.8h0M342.3 291.2h0M797.8 313.4h0M785.2 309.5h0M1018.7 328.0h0M845.0 289.5h0M455.6 341.7h0M281.6 251.1h0M324.1 321.7h0M667.4 334.5h0M923.9 306.9h0M674.6 345.2h0M833.9 313.4h0M944.7 321.5h0M839.0 323.1h0M254.0 318.4h0M1039.3 365.9h0M1014.1 271.5h0M598.3 274.4h0M829.3 344.5h0M856.2 287.2h0M547.4 331.5h0M923.2 319.9h0M251.6 363.8h0M153.4 410.1h0M397.9 306.5h0M601.1 311.8h0M543.6 339.4h0M1047.2 317.1h0M1008.1 352.1h0M444.1 315.6h0M839.0 282.8h0M346.6 315.0h0M372.2 293.2h0M250.8 303.0h0M174.9 381.5h0M228.4 285.3h0M665.8 349.3h0M238.1 267.0h0M323.4 296.9h0M615.9 328.5h0M550.7 345.7h0M158.2 362.0h0M190.1 343.7h0M674.1 352.0h0M694.9 338.1h0M526.2 289.7h0M806.8 320.1h0M276.7 320.1h0M426.7 282.9h0M837.6 272.5h0M624.9 283.9h0M167.1 303.8h0M344.3 294.5h0M519.8 341.8h0M1024.1 293.3h0M272.4 287.4h0M613.9 322.3h0M446.5 275.0h0M943.6 312.5h0M228.6 381.6h0M225.7 275.3h0M488.4 329.3h0M400.6 285.1h0M582.0 401.0h0M310.8 289.2h0M404.6 318.2h0M975.8 325.4h0M996.3 294.4h0M692.0 346.6h0M169.4 332.5h0M422.4 350.3h0M432.9 349.8h0M552.9 296.0h0M770.8 303.5h0M346.4 280.6h0M671.1 310.6h0M949.3 253.5h0M353.1 345.4h0M278.4 341.6h0M968.5 355.5h0M760.2 310.1h0M805.1 302.7h0M478.5 295.3h0M1033.2 326.4h0M608.2 288.4h0M617.5 328.2h0M168.4 376.9h0M848.7 325.4h0M361.7 321.6h0M308.4 293.2h0M1032.7 299.0h0M349.0 335.2h0M1022.2 309.1h0M669.0 341.3h0M967.0 297.3h0M399.2 311.7h0M442.1 286.3h0M279.7 341.5h0M296.4 289.1h0M234.7 327.3h0M344.5 318.9h0M601.8 324.5h0M419.3 316.2h0M709.6 299.1h0M364.7 334.5h0M525.5 288.8h0M244.7 312.0h0M437.3 342.9h0M232.2 312.0h0M975.0 310.3h0M358.8 368.6h0M454.4 327.2h0M418.4 301.0h0M665.6 330.8h0M667.3 317.1h0M607.3 311.0h0M561.6 310.6h0M969.4 332.3h0M917.1 310.1h0M151.2 398.1h0M964.4 337.8h0M358.9 344.0h0M483.6 279.3h0M1018.5 292.1h0M694.4 277.1h0M447.9 301.2h0M648.5 331.9h0M442.9 312.3h0M912.9 336.7h0M186.5 309.1h0M681.8 297.2h0M622.4 335.0h0M608.7 337.9h0M600.4 321.6h0M541.5 314.9h0M534.9 329.0h0M713.5 338.4h0M178.7 278.7h0M900.7 283.7h0M179.8 292.0h0M484.1 307.3h0M452.0 351.5h0M300.9 329.3h0M750.8 283.4h0M549.7 310.0h0M644.9 328.2h0M235.7 298.4h0M175.0 360.6h0M263.9 282.7h0M609.0 336.2h0M512.3 296.6h0M788.2 348.8h0M671.3 339.3h0M1035.6 310.4h0M452.2 317.7h0M437.9 297.9h0M1001.9 320.9h0M878.9 395.4h0M230.2 330.8h0M324.0 294.1h0M890.8 295.2h0M794.4 333.4h0M1024.0 273.2h0M919.9 315.2h0M835.6 299.2h0M965.2 292.5h0M177.6 366.3h0M388.4 308.6h0M877.5 291.6h0M567.5 377.3h0M921.5 299.2h0M687.8 338.0h0M599.6 344.6h0M340.9 340.8h0M389.9 324.0h0M552.6 269.1h0M901.5 283.2h0M1019.8 305.9h0M163.0 314.3h0M249.3 298.0h0M314.6 271.5h0M944.1 340.7h0M594.6 339.5h0M150.3 331.3h0M882.5 321.4h0M696.4 318.6h0M781.1 310.9h0M499.8 345.2h0M204.5 279.2h0M1044.4 301.9h0M667.3 278.3h0M440.0 361.9h0M1012.4 341.9h0M296.2 337.0h0M889.9 323.1h0M693.6 327.6h0M517.6 398.6h0M371.9 344.6h0M634.2 349.5h0M784.9 295.2h0M339.9 294.8h0M1035.1 348.6h0M443.6 324.3h0M261.0 344.0h0M159.4 353.6h0M209.4 368.6h0M886.4 321.8h0M286.2 332.3h0M453.9 288.7h0M409.5 345.0h0M359.3 283.8h0M720.9 339.0h0M688.9 339.3h0M916.9 287.0h0M617.4 324.0h0M328.4 280.9h0M207.7 341.2h0M295.6 293.6h0M528.6 310.1h0M482.3 300.1h0M674.3 303.4h0M496.5 331.0h0M332.7 309.0h0M994.5 280.2h0M804.4 302.8h0M804.5 321.1h0M647.5 347.1h0M276.8 281.9h0M694.1 355.1h0M806.2 314.8h0M932.4 336.7h0M548.9 322.3h0M296.2 386.1h0M559.3 275.9h0M955.8 286.6h0M917.8 278.8h0M681.8 289.3h0M183.4 344.3h0M160.8 303.1h0M184.1 337.0h0M999.6 304.3h0M235.3 377.0h0M952.3 325.1h0M978.0 348.9h0M167.8 293.1h0M522.6 326.3h0M447.2 354.1h0M507.3 304.1h0M699.7 354.2h0M546.6 344.7h0M370.7 321.8h0M215.3 308.7h0M801.9 329.4h0M897.2 277.0h0M452.0 277.3h0M353.8 350.1h0M820.8 321.3h0M444.1 307.6h0M234.9 367.9h0M344.0 349.6h0M171.0 367.9h0M1026.0 354.3h0M924.7 356.8h0M307.1 285.3h0M580.2 301.0h0M715.6 324.2h0M798.2 328.3h0M306.5 286.1h0M826.4 317.9h0M283.8 338.3h0M689.6 324.9h0M851.1 260.5h0M947.1 305.9h0M643.4 320.5h0M613.7 304.2h0M287.4 354.4h0M646.9 304.8h0M738.2 302.0h0M493.4 279.8h0M669.7 304.1h0M569.2 363.0h0M401.3 324.3h0M299.4 293.2h0M197.0 371.3h0M805.6 290.1h0M693.7 327.4h0M386.9 285.5h0M313.0 371.0h0M762.9 347.0h0M465.1 331.0h0M197.5 407.3h0M863.4 320.7h0M744.6 297.5h0M282.4 316.8h0M474.1 328.3h0M748.7 341.6h0M223.0 290.0h0M853.8 326.9h0M178.6 314.3h0M654.5 347.7h0M531.8 363.2h0M908.8 300.7h0M202.0 293.5h0M320.4 333.6h0M500.0 287.7h0M649.2 325.2h0M694.6 295.0h0M240.7 369.6h0M570.0 329.7h0M530.0 313.8h0M935.3 292.3h0M633.8 324.2h0M647.0 324.4h0M238.5 297.1h0M734.5 299.6h0M673.7 356.6h0M708.9 315.2h0M345.9 363.2h0M1036.4 280.4h0M831.4 326.9h0M273.8 354.1h0M481.1 292.1h0M998.5 277.2h0M215.1 392.2h0M1051.8 313.7h0M239.0 293.0h0M640.4 277.2h0M936.5 295.3h0M944.7 316.8h0M739.5 312.1h0M631.6 311.4h0M549.0 352.8h0M244.7 372.3h0M578.7 296.8h0M548.7 336.9h0M878.9 302.5h0M588.3 313.5h0M725.5 305.9h0M854.7 358.9h0M153.9 384.0h0M875.0 281.6h0M154.2 327.3h0M260.7 297.9h0M1011.6 284.2h0M965.9 339.4h0M640.4 300.9h0M942.5 316.2h0M298.2 279.6h0M272.5 264.5h0M456.5 301.9h0M384.4 343.6h0M302.7 293.2h0M492.5 292.6h0M223.0 330.6h0M445.9 298.0h0M259.6 345.7h0M818.6 291.8h0M786.6 279.3h0M177.7 358.7h0M997.0 336.8h0M467.4 368.2h0M687.6 299.2h0M702.8 342.0h0M515.0 308.0h0M329.5 306.5h0M1051.1 350.2h0M428.4 324.7h0M868.8 311.6h0M1036.3 346.1h0M630.0 342.1h0M316.6 302.6h0M984.8 337.9h0M835.4 305.8h0M288.5 335.8h0M436.9 285.5h0M514.1 341.0h0M947.8 350.2h0M1008.7 261.6h0M181.7 351.7h0M1051.6 306.9h0M1005.5 355.3h0M510.8 279.0h0M739.2 295.1h0M914.7 280.5h0M962.8 341.4h0M1048.8 339.3h0M164.0 386.8h0M1018.5 318.8h0M484.7 364.2h0M949.1 274.6h0M869.4 280.3h0M326.4 290.0h0M756.9 350.3h0M652.6 312.9h0M530.9 374.9h0M741.3 294.4h0M253.5 295.2h0M787.0 340.6h0M604.5 300.0h0M975.2 291.2h0M710.2 360.8h0M1046.7 317.1h0M365.3 362.2h0M535.7 309.1h0M259.0 372.4h0M203.8 306.3h0M180.4 360.5h0M708.3 355.2h0M296.7 411.2h0M930.0 289.7h0M906.9 319.8h0M191.6 286.7h0M802.8 296.6h0M297.0 288.3h0M174.7 324.3h0M450.7 306.5h0M614.9 313.1h0M483.4 316.9h0M863.5 326.2h0M742.5 342.0h0M910.7 335.8h0M554.5 319.8h0M198.7 327.9h0M610.5 292.8h0M586.5 366.2h0M714.1 287.2h0M373.6 346.6h0M479.6 335.5h0M394.5 319.5h0M349.5 331.6h0M751.0 360.6h0M364.7 322.3h0M915.2 289.2h0M452.5 348.1h0M718.4 293.7h0M467.0 338.0h0M876.5 359.5h0M365.0 294.4h0M525.3 361.7h0M560.5 326.7h0M425.0 288.9h0M526.8 311.1h0M620.8 394.1h0M533.0 330.1h0M825.0 340.4h0M953.2 318.4h0M283.1 349.5h0M878.9 273.3h0M848.5 274.3h0M192.7 388.1h0M564.5 330.5h0M614.5 330.3h0M1044.3 320.9h0M284.6 383.2h0M956.0 333.6h0M625.7 344.3h0M250.1 332.9h0M693.2 377.0h0M537.7 325.7h0M209.9 289.1h0M1014.4 289.3h0M786.2 297.5h0M376.8 283.3h0M768.2 309.3h0M241.1 292.8h0M976.8 355.9h0M233.7 343.4h0M1010.0 348.3h0M235.1 331.9h0M516.4 326.1h0M205.6 321.8h0M891.3 298.5h0M891.2 269.8h0M574.0 318.8h0M684.5 329.3h0M400.6 267.6h0M252.7 271.8h0M416.9 370.1h0M434.7 309.5h0M985.5 267.9h0M730.1 348.8h0M321.1 336.0h0M521.7 329.6h0M941.5 286.4h0M224.6 312.3h0M708.0 295.5h0M955.7 287.6h0M578.7 329.6h0M929.2 306.1h0M517.3 277.4h0M460.1 316.4h0M668.2 280.1h0M738.5 345.5h0M545.4 282.2h0M353.9 347.1h0M173.4 295.0h0M1000.0 296.4h0M258.5 286.4h0M696.3 355.3h0M760.9 349.6h0M653.1 356.8h0M961.6 324.9h0M492.4 358.4h0M1036.1 303.4h0M241.6 333.8h0M660.7 349.9h0M578.1 337.4h0M578.2 337.8h0M698.3 343.4h0M831.2 338.6h0M196.9 355.6h0M924.2 282.4h0M613.6 336.4h0M449.7 306.6h0M277.8 275.0h0M318.5 346.3h0M633.1 323.4h0M698.0 304.2h0M189.9 384.5h0M294.1 329.5h0M789.9 304.4h0M932.1 312.8h0M784.9 284.9h0M886.1 332.8h0M1005.0 294.8h0M228.3 328.1h0M379.5 293.6h0M806.0 344.1h0M726.7 306.2h0M998.6 325.4h0M445.6 356.7h0M378.7 301.0h0M166.0 373.4h0M1009.3 299.4h0M768.4 333.2h0M525.5 350.2h0M787.6 328.6h0M830.7 313.8h0M667.7 272.5h0M528.1 333.3h0M554.5 348.1h0M707.1 311.1h0M265.0 331.1h0M1013.0 289.4h0M715.3 309.4h0M818.3 317.1h0M546.4 278.3h0M1043.9 315.6h0M445.4 315.8h0M439.7 353.0h0M664.3 315.7h0M204.9 279.1h0M657.2 298.8h0M192.3 317.1h0M326.4 317.0h0M546.9 326.6h0M656.5 297.8h0M314.7 304.2h0M892.5 304.5h0M247.0 329.1h0M775.8 303.8h0M407.5 322.8h0M307.0 364.8h0M375.8 310.9h0M329.2 329.6h0M983.2 331.4h0M868.8 288.0h0M413.8 289.6h0M814.5 335.4h0M882.3 301.5h0M904.5 355.5h0M656.8 310.8h0M351.3 295.4h0M209.3 380.3h0M781.1 331.3h0M966.8 279.7h0M490.2 382.3h0M550.0 364.3h0M512.8 349.7h0M325.2 278.2h0M340.1 322.7h0M804.9 294.8h0M192.8 334.2h0M570.0 359.2h0M615.9 298.6h0M219.7 324.4h0M481.8 294.6h0M493.4 285.3h0M1035.4 302.8h0M853.1 329.0h0M400.8 342.8h0M767.1 345.9h0M353.9 335.9h0M451.4 320.5h0M841.0 329.1h0M166.9 399.7h0M568.5 316.4h0M723.2 294.8h0M686.0 307.0h0M828.8 274.7h0M533.0 320.7h0M659.4 313.5h0M506.7 331.6h0M782.8 298.0h0M780.4 310.2h0M999.7 343.7h0M587.2 344.9h0M201.9 317.6h0M616.0 307.3h0M175.0 344.7h0M380.9 287.9h0M1050.8 307.0h0M750.2 311.5h0M721.0 295.9h0M434.6 321.3h0M219.9 304.9h0M1001.4 318.4h0M936.8 306.0h0M398.6 324.6h0M1039.4 345.6h0M820.1 329.5h0M352.1 280.6h0M270.7 351.2h0M602.5 310.1h0M349.9 317.4h0M911.0 333.7h0M828.5 282.9h0M512.6 312.5h0M899.7 333.0h0M828.4 333.4h0M680.8 338.8h0M845.2 291.4h0M694.2 282.0h0M667.6 391.1h0M350.8 355.5h0M808.7 343.5h0M1050.7 372.0h0M1019.1 339.0h0M504.2 368.5h0M498.6 310.3h0M910.9 339.5h0M798.5 287.6h0M1017.5 303.5h0M776.1 299.7h0M978.0 307.1h0M1020.9 346.2h0M731.2 324.4h0M861.9 388.2h0M189.2 320.1h0M193.0 361.3h0M753.0 290.4h0M374.7 311.1h0M584.8 294.0h0M527.7 321.3h0M239.7 328.6h0M615.7 282.6h0M746.9 378.6h0M184.9 359.2h0M425.0 297.3h0M642.7 332.3h0M335.3 282.1h0M826.9 306.7h0M818.7 324.2h0M382.2 304.3h0M847.7 338.0h0M169.5 366.7h0M866.2 314.0h0M611.7 331.2h0M371.2 343.6h0M796.0 274.1h0M248.1 335.2h0M513.9 306.8h0M232.8 339.8h0M999.7 292.0h0M407.8 286.4h0M540.8 309.1h0M780.4 344.2h0M491.7 318.9h0M627.2 323.7h0M490.8 295.6h0M553.4 320.7h0M722.8 329.2h0M223.5 298.4h0M847.0 285.2h0M467.5 265.2h0M629.7 351.6h0M981.0 282.0h0M567.1 305.4h0M761.6 303.3h0M705.9 313.4h0M334.0 337.9h0M1032.2 296.6h0M1016.4 270.6h0M621.0 361.6h0M929.4 306.7h0M691.0 345.0h0M185.7 318.0h0M723.5 306.6h0M567.6 320.6h0M866.2 322.6h0M211.8 389.8h0M443.7 329.1h0M511.6 282.0h0M731.8 289.9h0M280.6 378.3h0M944.4 282.5h0M746.7 301.0h0M757.1 342.8h0M585.8 292.6h0M425.2 325.9h0M620.5 338.1h0M529.8 316.7h0M392.0 311.3h0M941.8 286.1h0M626.1 279.8h0M685.1 311.7h0M198.9 294.6h0M159.4 311.1h0M995.9 270.7h0M573.8 315.5h0M405.7 351.7h0M1034.2 294.0h0M299.5 322.1h0M333.9 327.1h0M272.6 300.0h0M510.1 381.4h0M532.4 323.3h0M540.8 310.4h0M920.9 359.4h0M761.5 385.7h0M847.1 314.0h0M285.0 374.0h0M415.4 304.8h0M544.0 318.5h0M955.8 343.6h0M165.1 311.3h0M1030.4 326.1h0M382.0 363.4h0M261.6 348.7h0M890.0 411.5h0M1034.0 350.2h0M885.2 343.0h0M1045.6 318.1h0M848.9 346.8h0M435.9 289.9h0M764.5 286.9h0M284.8 303.5h0M1046.1 363.5h0M236.9 324.4h0M992.6 303.5h0M670.7 292.7h0M680.7 335.2h0M465.3 340.0h0M370.2 319.1h0M210.7 367.3h0M409.6 355.2h0M849.3 277.7h0M288.6 306.7h0M597.2 320.4h0M286.2 269.1h0M609.5 393.8h0M920.5 260.5h0M980.7 284.4h0M771.7 307.7h0M951.6 296.9h0M728.1 310.2h0M731.6 335.8h0M783.3 381.7h0M257.2 303.5h0M521.9 342.4h0M995.4 309.3h0M691.1 299.4h0M582.4 374.8h0M243.9 375.4h0M514.9 283.1h0M482.6 328.2h0M828.0 298.3h0M962.1 298.5h0M289.8 284.5h0M955.2 339.7h0M729.8 269.4h0M773.8 314.6h0M413.6 340.3h0M580.5 334.5h0M253.9 314.1h0M273.7 320.9h0M529.7 351.0h0M945.0 297.3h0M816.0 316.2h0M385.3 295.4h0M279.5 284.6h0M1030.1 262.8h0M524.8 286.1h0M161.2 396.0h0M209.9 308.0h0M833.5 304.2h0M606.1 333.3h0M1050.0 272.7h0M454.1 348.4h0M934.2 282.0h0M336.2 287.1h0M354.0 297.3h0M496.9 312.1h0M1043.4 280.5h0M604.3 329.1h0M482.1 290.2h0M839.9 274.5h0M350.0 327.1h0M849.5 306.5h0M472.9 324.4h0M801.0 331.9h0M586.2 337.1h0M514.9 286.4h0M723.6 288.8h0M557.4 331.0h0M821.9 278.9h0M612.7 295.6h0M378.9 322.4h0M557.6 340.9h0M421.1 328.1h0M229.8 338.3h0M326.8 313.0h0M820.0 299.0h0M951.7 270.2h0M828.7 327.4h0M1029.5 290.6h0M246.1 317.2h0M1005.0 309.7h0M405.9 303.6h0M222.0 347.0h0M540.9 317.6h0M1043.5 273.5h0M353.9 351.4h0M357.1 316.8h0M841.9 350.9h0M792.3 295.2h0M966.5 343.0h0M896.6 274.4h0M384.5 343.6h0M517.4 314.9h0M405.5 315.2h0M930.7 254.2h0M527.0 319.3h0M879.2 311.7h0M917.3 320.0h0M851.7 328.7h0M888.3 300.7h0M493.0 304.2h0M649.4 295.0h0M167.6 394.8h0M410.2 323.8h0M234.6 359.0h0M844.9 308.5h0M632.2 285.2h0M543.9 284.3h0M413.5 288.9h0M1000.8 272.7h0M551.3 274.2h0M895.2 284.8h0M676.6 294.9h0M536.0 357.0h0M684.7 353.7h0M214.9 386.6h0M187.7 282.2h0M499.4 332.8h0M372.1 277.4h0M782.6 316.9h0M817.9 341.9h0M834.2 279.6h0M837.2 310.2h0M172.5 357.7h0M842.7 293.5h0M636.0 357.2h0M745.5 318.0h0M533.5 355.9h0M988.1 316.9h0M735.0 379.5h0M803.8 360.1h0M472.7 346.7h0M597.0 349.8h0M1025.1 264.5h0M488.6 280.9h0M536.7 379.4h0M577.8 358.2h0M273.6 296.7h0M746.4 309.2h0M607.1 294.0h0M271.0 320.7h0M637.6 318.3h0M664.3 331.3h0M303.9 282.9h0M231.2 299.7h0M366.0 289.4h0M1017.7 317.5h0M1012.8 303.2h0M958.1 265.3h0M938.6 292.3h0M235.1 328.3h0M718.2 348.8h0M453.7 308.4h0M939.2 281.5h0M830.7 309.4h0M1037.4 262.4h0M584.0 337.8h0M216.5 304.6h0M814.2 298.3h0M496.3 318.3h0M745.5 354.8h0M1035.6 298.6h0M686.0 348.2h0M476.1 294.4h0M657.9 308.2h0M941.5 298.0h0M786.6 343.4h0M462.0 291.1h0M1040.1 314.6h0M529.2 332.3h0M648.1 330.2h0M679.4 340.5h0M806.5 325.8h0M1034.2 344.0h0M592.3 322.9h0M581.6 332.0h0M470.5 269.5h0M208.9 353.4h0M729.9 306.0h0M627.9 344.5h0M501.1 305.0h0M955.8 274.7h0M1005.7 342.6h0M946.4 264.8h0M983.9 324.6h0M1030.2 346.4h0M705.3 282.4h0M955.9 342.4h0M429.5 337.3h0M965.1 349.1h0M198.2 294.1h0M693.8 278.4h0M1049.6 327.7h0M780.4 353.3h0M220.2 327.7h0M248.1 381.1h0M853.6 292.3h0M504.3 388.5h0M428.4 311.5h0M979.8 279.3h0M693.0 333.8h0M476.3 328.5h0M827.4 290.1h0M649.7 311.2h0M816.0 280.3h0M542.7 354.9h0M768.8 285.1h0M702.1 323.2h0M964.9 288.1h0M367.9 345.0h0M338.8 338.2h0M496.3 298.6h0M567.9 328.8h0M906.1 300.7h0M773.5 304.3h0M446.8 280.3h0M740.5 280.6h0M478.0 325.2h0M732.5 287.2h0M919.1 336.4h0M286.6 360.5h0M575.0 366.3h0M225.4 348.8h0M1021.4 334.4h0M226.0 392.5h0M181.0 357.9h0M615.3 300.6h0M155.5 278.9h0M895.3 320.0h0M1041.8 322.3h0M206.5 358.3h0M786.5 340.2h0M898.7 333.1h0M974.7 311.3h0M156.1 385.7h0M381.6 348.4h0M443.3 283.8h0M561.5 300.7h0M370.4 317.7h0M611.3 300.4h0M547.2 328.6h0M526.5 289.7h0M340.9 291.0h0M690.5 343.1h0M256.4 316.3h0M726.1 337.7h0M995.5 350.2h0M796.4 331.0h0M695.5 341.9h0M529.2 334.4h0M308.9 288.2h0M1030.4 290.7h0M213.6 308.6h0M887.1 327.4h0M396.3 314.7h0M329.3 288.5h0M548.3 300.4h0M691.6 292.3h0M258.6 327.3h0M772.8 288.9h0M904.0 282.9h0M988.8 352.8h0M239.0 339.3h0M215.0 290.1h0M559.4 350.8h0M1031.4 336.6h0M216.6 341.0h0M663.9 332.8h0M239.4 360.5h0M914.3 332.2h0M378.9 341.4h0M467.3 337.8h0M719.9 298.0h0M304.6 270.2h0M439.9 328.6h0M782.5 296.2h0M989.3 357.4h0M150.9 380.8h0M770.6 343.3h0M864.0 313.9h0M996.3 256.7h0M730.4 343.2h0M916.8 325.3h0M691.1 287.0h0M842.2 325.4h0M460.8 342.0h0M1028.5 308.3h0M515.8 298.1h0M291.3 360.8h0M520.5 308.9h0M345.8 334.9h0M840.9 326.8h0M415.0 324.6h0M889.1 321.7h0M365.5 287.9h0M603.9 288.3h0M440.5 345.6h0M749.5 303.7h0M317.2 285.6h0M673.6 288.0h0M328.9 385.5h0M274.0 351.4h0M715.4 323.3h0M520.3 324.4h0M552.3 333.7h0M932.4 299.0h0M653.3 346.6h0M551.8 338.8h0M418.5 336.1h0M678.6 348.4h0M661.0 314.5h0M928.6 302.9h0M866.4 331.3h0M306.4 353.9h0M845.8 314.9h0M619.7 332.0h0M828.0 306.8h0M928.9 274.8h0M393.8 374.6h0M860.8 348.2h0M620.8 276.6h0M395.5 305.1h0M254.3 368.0h0M342.4 310.8h0M915.3 357.1h0M1006.7 309.8h0M155.1 361.4h0M997.9 313.3h0M259.3 333.6h0M584.8 335.6h0M526.7 294.5h0M179.3 309.9h0M613.5 318.5h0M740.0 311.0h0M384.8 301.8h0M994.0 323.8h0M800.1 302.9h0M822.0 291.6h0M306.0 297.1h0M151.7 373.8h0M535.9 327.2h0M234.0 276.1h0M455.2 301.7h0M643.3 341.5h0M861.6 327.3h0M643.0 299.1h0M441.0 325.0h0M967.1 336.2h0M969.1 289.6h0M299.0 334.0h0M987.6 328.9h0M833.6 347.1h0M542.8 302.5h0M692.4 317.6h0M992.2 326.9h0M657.9 345.1h0M650.8 296.8h0M785.8 339.0h0M649.7 305.7h0M509.7 368.5h0M901.5 329.9h0M1040.9 306.4h0M685.4 329.7h0M779.7 335.0h0M307.2 341.3h0M629.3 341.3h0M786.9 298.8h0M589.0 326.9h0M489.9 312.3h0M196.6 322.4h0M177.3 314.8h0M503.3 346.6h0M541.1 279.8h0M803.8 356.8h0M355.1 291.7h0M421.6 283.7h0M810.1 305.6h0M184.7 357.6h0M839.2 284.9h0M523.2 311.6h0M877.6 338.9h0M197.4 330.9h0M690.4 327.4h0M603.1 334.9h0M796.3 275.7h0M956.6 299.9h0M650.3 308.4h0M308.5 288.2h0M471.8 305.9h0M317.9 351.2h0M468.1 335.5h0M490.6 282.1h0M994.0 296.9h0M237.1 301.2h0M831.0 325.1h0M825.8 297.4h0M949.8 298.0h0M734.7 298.9h0M797.5 305.1h0M374.1 283.5h0M791.1 294.3h0M149.5 358.3h0M679.6 360.1h0M342.6 359.5h0M600.5 331.8h0M485.8 340.0h0M606.1 307.0h0M1016.2 268.7h0M454.9 343.6h0M192.2 298.2h0M883.3 321.2h0M623.0 283.5h0M456.7 327.4h0M492.5 281.8h0M260.9 321.5h0M189.0 352.4h0M238.8 301.7h0M568.9 299.1h0M720.3 340.8h0M657.2 347.6h0M195.9 351.8h0M892.2 331.4h0M557.1 312.7h0M338.3 283.6h0M616.4 355.5h0M230.2 309.0h0M786.6 319.9h0M608.8 311.4h0M216.1 284.0h0M188.6 334.5h0M985.7 330.5h0M368.9 278.4h0M373.8 304.0h0M889.0 332.9h0M431.6 341.3h0M611.8 342.3h0M180.8 208.8h0M165.7 230.3h0M168.9 231.8h0M150.7 234.8h0M308.2 229.9h0M164.6 247.4h0M342.8 247.4h0M434.9 193.4h0M426.6 229.3h0M580.8 241.7h0M714.8 178.6h0M694.3 192.9h0M759.9 190.4h0M808.4 196.4h0M841.1 216.5h0M693.4 219.4h0M748.6 240.4h0M763.9 240.6h0M654.5 247.0h0M679.3 247.4h0M695.1 248.3h0M755.8 247.9h0M930.5 226.1h0M980.2 227.5h0M950.1 246.2h0M974.0 245.1h0M989.4 245.1h0M191.6 419.8h0M180.0 437.1h0M224.6 439.9h0M161.7 450.7h0M179.8 452.7h0M199.1 448.9h0M148.4 454.8h0M289.5 426.7h0M299.3 439.5h0M300.7 463.7h0M324.9 429.7h0M331.8 429.7h0M340.2 433.0h0M328.8 444.4h0M367.7 447.9h0M371.1 418.8h0M333.7 413.9h0M241.9 414.3h0M316.4 412.4h0M263.6 412.0h0M255.1 411.6h0M165.7 412.9h0M441.5 420.8h0M456.6 414.3h0M463.9 418.3h0M482.2 414.3h0M546.6 413.5h0M517.5 427.3h0M515.2 433.6h0M454.6 446.4h0M490.0 457.2h0M275.9 526.8h0M683.6 527.5h0"/>
<path stroke="#8e908e" d="M284.2 107.5h0M335.3 129.5h0M303.9 156.6h0M287.0 162.8h0M326.1 163.0h0M375.1 170.3h0M153.5 180.6h0M186.0 177.4h0M285.1 175.0h0M311.2 185.7h0M209.9 192.5h0M225.5 194.4h0M297.5 197.4h0M333.2 197.6h0M382.3 190.0h0M293.4 209.2h0M305.0 216.0h0M200.5 221.6h0M212.0 219.9h0M241.3 223.1h0M259.0 219.2h0M194.3 235.0h0M156.5 239.5h0M250.5 241.2h0M359.5 235.7h0M173.1 246.4h0M180.6 248.3h0M312.2 245.3h0M361.4 247.9h0M459.9 156.2h0M426.6 169.4h0M423.1 177.8h0M462.0 188.9h0M438.1 198.9h0M445.1 198.3h0M424.4 203.6h0M411.6 210.9h0M416.1 216.7h0M479.8 200.2h0M520.4 182.1h0M554.8 181.2h0M557.3 186.3h0M563.3 192.5h0M511.0 198.1h0M517.4 201.5h0M616.7 212.8h0M570.8 221.6h0M528.9 229.3h0M544.5 229.7h0M571.6 230.1h0M454.5 232.7h0M455.6 237.4h0M773.6 184.4h0M836.2 193.8h0M838.1 195.5h0M847.7 202.6h0M713.1 214.7h0M749.4 243.4h0M775.7 246.6h0M797.7 248.9h0M807.1 245.5h0M871.9 246.4h0M893.4 241.2h0M648.1 247.4h0M904.2 197.4h0M908.7 196.1h0M928.3 205.6h0M934.6 211.2h0M939.0 210.1h0M970.2 203.0h0M1004.7 231.0h0M921.2 235.1h0M899.3 238.2h0M900.4 242.6h0M930.5 242.2h0M983.8 240.4h0M1051.6 228.6h0M160.7 261.5h0M202.4 258.7h0M212.9 263.1h0M227.5 268.6h0M215.2 272.4h0M163.9 276.9h0M167.2 276.3h0M184.8 281.0h0M171.0 287.2h0M238.1 284.0h0M169.1 296.2h0M197.3 295.8h0M207.8 296.4h0M152.2 301.5h0M256.9 295.1h0M264.2 299.5h0M179.6 309.9h0M242.2 308.7h0M205.6 315.8h0M217.3 316.3h0M290.9 274.1h0M272.7 323.7h0M161.6 321.8h0M163.3 326.9h0M235.7 328.2h0M240.9 328.2h0M251.8 327.6h0M388.6 261.9h0M349.2 264.7h0M350.1 275.0h0M366.3 272.4h0M395.0 270.5h0M402.4 268.8h0M415.5 272.1h0M413.7 275.4h0M443.2 280.1h0M393.7 287.6h0M430.4 289.1h0M302.2 301.3h0M378.1 297.4h0M404.3 302.9h0M346.0 309.2h0M405.6 312.4h0M436.8 309.2h0M360.4 320.3h0M399.2 318.2h0M374.2 329.5h0M431.6 327.9h0M475.5 263.7h0M451.4 279.5h0M473.6 277.6h0M539.3 262.6h0M553.1 265.6h0M576.8 287.8h0M496.4 297.4h0M469.5 302.6h0M542.4 308.3h0M467.2 313.5h0M499.6 315.0h0M580.1 313.5h0M547.3 319.2h0M551.8 323.7h0M560.4 323.5h0M498.6 325.9h0M573.6 328.2h0M592.2 326.3h0M588.9 327.6h0M533.2 328.2h0M617.8 251.5h0M612.4 256.7h0M626.1 264.1h0M662.7 269.5h0M683.6 264.1h0M721.4 264.1h0M740.2 273.5h0M713.9 281.4h0M687.7 287.4h0M744.7 285.9h0M674.2 300.4h0M603.9 309.6h0M644.1 310.3h0M719.1 324.7h0M599.8 322.4h0M605.6 325.6h0M633.2 328.2h0M670.4 328.5h0M652.4 329.5h0M835.7 255.8h0M839.6 254.5h0M848.9 256.0h0M819.1 264.4h0M822.9 263.5h0M858.3 266.4h0M883.4 266.4h0M783.2 279.5h0M790.2 277.3h0M865.6 287.2h0M772.5 297.2h0M828.1 295.5h0M841.5 297.7h0M853.2 295.8h0M800.9 307.3h0M780.4 310.3h0M785.1 309.6h0M829.1 309.0h0M827.0 312.4h0M834.5 317.3h0M801.8 318.3h0M825.7 322.7h0M881.3 318.8h0M865.9 319.2h0M863.3 321.8h0M846.0 325.6h0M855.0 326.7h0M862.4 327.6h0M893.4 328.5h0M927.2 251.6h0M902.2 259.3h0M974.2 260.0h0M996.2 259.8h0M919.9 269.4h0M1029.7 267.1h0M1025.6 273.7h0M940.9 293.1h0M939.5 295.8h0M909.0 306.3h0M905.6 307.4h0M924.4 311.3h0M919.0 318.0h0M962.1 302.6h0M960.0 305.8h0M965.1 305.8h0M972.0 302.2h0M973.4 306.3h0M986.9 310.2h0M947.3 318.1h0M950.7 315.0h0M954.8 313.2h0M979.7 320.0h0M1024.5 318.0h0M1039.6 317.0h0M1044.4 321.4h0M1011.1 324.5h0M946.1 325.6h0M905.6 326.9h0M148.6 330.6h0M191.5 339.6h0M238.3 339.2h0M242.8 341.3h0M288.3 333.8h0M292.2 342.6h0M269.3 346.4h0M210.7 356.3h0M232.8 354.1h0M249.6 359.5h0M158.6 358.5h0M154.3 367.4h0M172.3 370.8h0M196.3 377.7h0M215.9 378.1h0M235.7 372.6h0M231.9 378.5h0M246.4 379.1h0M259.8 377.4h0M286.4 372.9h0M165.0 382.6h0M294.7 382.6h0M188.9 399.2h0M159.8 401.4h0M299.8 340.9h0M376.4 340.5h0M310.4 352.8h0M303.1 358.2h0M422.3 347.6h0M435.7 348.6h0M434.5 353.7h0M425.5 356.3h0M421.0 357.6h0M417.8 360.8h0M419.7 364.0h0M390.9 355.6h0M442.2 342.8h0M337.3 366.5h0M316.5 372.9h0M321.0 375.5h0M323.6 373.6h0M391.9 372.7h0M403.4 377.4h0M363.7 378.7h0M343.8 383.8h0M301.1 391.5h0M357.3 396.7h0M369.1 394.5h0M384.5 394.1h0M524.8 331.9h0M458.8 336.4h0M462.7 333.8h0M488.3 334.5h0M492.2 335.1h0M490.2 337.7h0M495.4 340.9h0M471.3 339.0h0M480.6 343.2h0M452.4 347.1h0M508.2 344.4h0M513.9 347.3h0M503.7 353.1h0M494.5 356.9h0M487.3 365.9h0M478.7 378.5h0M528.1 366.5h0M510.1 370.1h0M519.5 376.4h0M532.2 341.5h0M546.6 346.7h0M569.1 334.1h0M567.5 353.7h0M586.4 346.7h0M594.7 335.8h0M578.7 368.8h0M585.5 370.4h0M582.3 381.3h0M590.6 378.7h0M583.2 388.7h0M578.1 393.1h0M565.2 390.0h0M566.3 398.6h0M556.0 398.3h0M540.2 395.1h0M500.5 392.4h0M646.0 332.6h0M597.3 332.6h0M599.2 347.6h0M608.4 343.5h0M621.0 352.1h0M636.8 347.9h0M641.5 347.3h0M655.4 351.5h0M656.5 357.9h0M665.2 350.5h0M670.4 349.9h0M676.1 349.2h0M678.4 343.2h0M675.2 360.5h0M645.4 362.7h0M651.8 366.8h0M647.3 367.2h0M627.4 367.8h0M628.1 371.0h0M669.1 369.4h0M680.6 364.6h0M684.5 362.1h0M680.6 368.5h0M685.1 371.0h0M690.2 359.5h0M691.5 376.2h0M609.5 374.5h0M597.9 378.7h0M625.2 378.1h0M639.6 376.8h0M643.4 378.1h0M659.5 382.6h0M667.8 382.2h0M671.6 391.5h0M635.5 387.7h0M612.0 385.1h0M613.9 387.7h0M607.5 390.9h0M654.3 395.1h0M660.7 392.8h0M662.0 397.3h0M650.5 405.0h0M622.9 407.6h0M697.3 339.2h0M701.1 353.1h0M708.8 354.4h0M719.1 353.1h0M710.7 360.1h0M703.7 361.4h0M699.8 365.3h0M698.6 371.0h0M706.9 369.7h0M716.5 364.0h0M715.0 374.2h0M733.2 362.7h0M738.1 368.1h0M742.2 358.8h0M742.2 342.8h0M722.3 382.6h0M695.4 384.9h0M704.7 390.0h0M716.1 393.8h0M724.2 399.9h0M725.5 404.4h0M776.8 331.5h0M769.5 333.8h0M798.6 333.2h0M859.5 333.8h0M888.3 331.9h0M764.3 341.8h0M781.9 342.8h0M784.2 346.4h0M831.3 342.2h0M843.7 342.2h0M890.6 341.8h0M885.5 347.3h0M874.2 351.2h0M813.3 349.0h0M811.4 355.0h0M809.5 359.5h0M820.7 356.3h0M824.8 357.6h0M787.0 356.0h0M850.9 352.8h0M857.3 356.3h0M746.6 357.6h0M760.1 363.3h0M768.4 363.1h0M774.8 362.3h0M748.6 365.9h0M752.4 364.9h0M756.0 371.4h0M791.5 365.3h0M805.0 364.0h0M808.2 368.5h0M819.5 365.0h0M841.5 363.6h0M833.2 368.2h0M838.3 374.2h0M861.4 366.5h0M872.3 362.1h0M880.6 362.1h0M885.1 363.1h0M780.9 374.2h0M796.6 375.1h0M806.3 377.7h0M816.9 376.8h0M792.4 381.3h0M812.4 385.4h0M844.7 380.3h0M860.4 382.8h0M869.3 386.2h0M889.6 378.3h0M756.3 387.4h0M754.3 387.1h0M786.4 393.8h0M803.9 397.1h0M763.3 397.7h0M864.6 395.8h0M886.6 394.1h0M821.6 404.4h0M898.7 331.4h0M929.5 333.4h0M971.2 334.1h0M987.9 334.4h0M1015.0 333.4h0M1021.1 331.6h0M923.4 340.7h0M932.6 344.4h0M925.4 351.9h0M909.7 357.1h0M912.7 362.8h0M958.9 342.0h0M943.9 346.4h0M949.3 344.8h0M941.8 351.2h0M952.1 353.5h0M956.2 353.5h0M948.0 360.4h0M965.7 363.5h0M963.0 369.7h0M968.5 369.9h0M978.1 373.8h0M982.8 372.4h0M976.7 378.5h0M980.8 381.7h0M957.5 378.1h0M953.4 382.6h0M951.4 389.5h0M916.8 388.5h0M922.4 394.3h0M904.2 376.5h0M907.6 377.6h0M981.5 352.6h0M984.9 356.0h0M992.1 354.3h0M1000.6 346.4h0M1006.5 335.5h0M1003.4 339.8h0M1001.6 356.3h0M1012.2 362.1h0M1013.6 348.5h0M1019.1 349.1h0M1023.9 348.1h0M1032.8 351.2h0M1036.9 358.0h0M1038.2 361.5h0M1048.5 342.6h0M1022.5 369.0h0M1030.7 367.2h0M1034.1 369.7h0M1045.1 369.0h0M1041.0 373.8h0M1038.9 377.2h0M1028.0 379.9h0M1028.6 385.4h0M1043.4 385.8h0M995.4 369.0h0M999.5 378.3h0M1007.9 375.8h0M1002.7 385.8h0M990.1 391.3h0M963.0 404.5h0M967.1 401.1h0M1019.8 407.9h0M157.8 412.9h0M151.5 428.3h0M150.3 440.1h0M218.3 432.2h0M279.9 435.6h0M313.1 438.9h0M314.5 444.6h0M255.9 452.9h0M354.4 424.2h0M298.9 482.1h0M270.4 488.4h0M518.5 412.4h0M531.3 415.5h0M413.0 436.5h0M379.5 467.0h0M584.4 425.1h0M574.9 437.9h0M536.2 445.4h0M541.5 452.3h0M397.2 506.3h0M723.4 414.9h0M730.8 412.4h0M737.1 425.7h0M810.4 442.4h0M1017.5 418.5h0M913.7 436.3h0M993.2 467.9h0M969.1 498.8h0M149.5 557.0h0M395.9 521.9h0"/>
<path stroke="#0798ea" d="M276.8 154.9h0M283.4 160.5h0M383.4 181.4h0M373.1 215.4h0M278.9 246.6h0M317.6 247.2h0M516.1 248.1h0M525.7 247.0h0M771.4 236.1h0M226.5 257.4h0M190.1 265.1h0M208.8 280.8h0M271.6 279.7h0M289.3 267.3h0M214.2 302.9h0M177.5 306.7h0M245.4 317.3h0M247.9 318.8h0M187.0 326.9h0M248.6 328.5h0M408.6 293.6h0M444.1 294.2h0M445.4 304.5h0M386.8 310.6h0M329.3 316.9h0M309.5 320.1h0M352.4 326.3h0M509.1 269.6h0M575.9 271.8h0M591.5 282.3h0M476.5 294.0h0M456.6 300.3h0M545.6 295.1h0M562.3 301.9h0M554.1 307.1h0M589.6 301.5h0M481.6 312.4h0M485.7 313.1h0M631.4 260.3h0M611.6 272.8h0M618.8 273.3h0M630.4 274.4h0M637.8 274.7h0M729.6 271.8h0M701.4 279.2h0M629.3 299.4h0M634.5 297.8h0M651.4 297.8h0M696.3 314.7h0M622.0 316.9h0M615.6 320.5h0M603.1 323.7h0M619.8 327.9h0M750.7 262.6h0M753.7 272.2h0M794.5 277.9h0M823.8 286.5h0M846.6 282.3h0M815.5 295.3h0M877.2 298.1h0M752.7 301.3h0M767.4 301.0h0M761.1 309.2h0M766.3 312.8h0M165.9 333.6h0M183.8 340.5h0M188.3 340.5h0M204.6 343.1h0M181.9 351.8h0M170.4 367.2h0M263.3 368.5h0M265.5 374.2h0M206.9 385.8h0M281.0 393.2h0M228.7 402.4h0M367.8 335.8h0M319.7 349.0h0M347.9 370.0h0M338.6 376.8h0M308.2 380.3h0M381.5 379.1h0M428.4 370.8h0M440.0 370.0h0M445.4 366.5h0M339.6 396.7h0M393.1 405.9h0M526.8 340.3h0M449.6 354.0h0M448.6 362.1h0M548.8 358.2h0M564.6 375.1h0M466.3 384.5h0M593.4 347.9h0M667.2 344.4h0M728.4 359.5h0M731.9 377.1h0M879.3 332.6h0M915.8 337.8h0M994.5 395.0h0M220.3 425.3h0M252.7 418.3h0M306.2 423.2h0M199.5 454.2h0M486.1 430.1h0M602.1 430.1h0M201.4 516.6h0"/>
</g>
<line x1="146.5" x2="1053.5" y1="417.90" y2="417.90" stroke="#2e3230" stroke-width="3.8"/>
<rect x="508.2" y="303.9" width="25" height="25" fill="#7b1fa2"/>
<path d="M372.3 268.2 L389.6 285.5 L372.3 302.8 L355 285.5 Z" fill="#f57c00"/>
<line x1="327.76" x2="327.76" y1="99.5" y2="736.5" stroke="#dc4a10" stroke-opacity="0.5" stroke-width="4.2"/>
<line x1="509.02" x2="509.02" y1="99.5" y2="736.5" stroke="#dcb054" stroke-opacity="0.5" stroke-width="4.2"/>
<line x1="690.28" x2="690.28" y1="99.5" y2="736.5" stroke="#a8d898" stroke-opacity="0.5" stroke-width="4.2"/>
<line x1="871.54" x2="871.54" y1="99.5" y2="736.5" stroke="#1c9c48" stroke-opacity="0.5" stroke-width="4.2"/>
<line x1="1052.80" x2="1052.80" y1="99.5" y2="736.5" stroke="#1c9c48" stroke-opacity="0.5" stroke-width="4.2"/>
<rect x="146.5" y="99.5" width="907.0" height="637.0" fill="none" stroke="#cacaca" stroke-width="3"/>
<rect x="156" y="607.2" width="442" height="121.3" rx="4" fill="#fff" fill-opacity="0.8" stroke="#d0d0d0" stroke-width="2.4"/>
<path d="M178.4 607.2 L191.6 620.2 L178.4 633.3 L165.2 620.2 Z" fill="#f57c00"/>
<rect x="169" y="634.9" width="18.8" height="18.8" rx="1.5" fill="#7b1fa2"/>
<circle cx="178.4" cy="667.3" r="5.45" fill="#0798ea"/>
<circle cx="178.4" cy="690.3" r="5.45" fill="#8e908e"/>
<circle cx="178.4" cy="713.9" r="5.45" fill="#d5d9d4"/>
<text x="207.92" y="625.0" font-size="16.8" fill="#262626" textLength="383.08" lengthAdjust="spacingAndGlyphs">Fund: Defiance Connective Technologies ETF</text>
<text x="207.92" y="648.2" font-size="16.8" fill="#262626" textLength="307.36" lengthAdjust="spacingAndGlyphs">Benchmark: iShares MSCI ACWI ETF</text>
<text x="207.04" y="671.3" font-size="16.8" fill="#262626" textLength="186.18" lengthAdjust="spacingAndGlyphs">Category: Technology</text>
<text x="207.04" y="694.5" font-size="16.8" fill="#262626" textLength="176.0" lengthAdjust="spacingAndGlyphs">Group: Sector Equity</text>
<text x="208.82" y="717.9" font-size="16.8" fill="#262626" textLength="124.1" lengthAdjust="spacingAndGlyphs">All other funds</text>
<text x="153.22" y="119.9" font-size="13.9" fill="#262626" textLength="153.82" lengthAdjust="spacingAndGlyphs">as of September 2025</text>
<text x="376.72" y="804.8" font-size="18" fill="#333333" textLength="445.54" lengthAdjust="spacingAndGlyphs">Gender Equality Funds group rank, percentile</text>
<text x="85.28" y="175.0" font-size="31.0" fill="#1a1a1a" textLength="39.34" lengthAdjust="spacingAndGlyphs">30</text>
<text x="85.64" y="260.5" font-size="31.0" fill="#1a1a1a" textLength="38.44" lengthAdjust="spacingAndGlyphs">20</text>
<text x="90.74" y="344.0" font-size="31.0" fill="#1a1a1a" textLength="32.62" lengthAdjust="spacingAndGlyphs">10</text>
<text x="104.28" y="429.0" font-size="31.0" fill="#1a1a1a" textLength="21.8" lengthAdjust="spacingAndGlyphs">0</text>
<text x="75.46" y="512.54" font-size="31.0" fill="#1a1a1a" textLength="49.26" lengthAdjust="spacingAndGlyphs">−10</text>
<text x="69.36" y="598.08" font-size="31.0" fill="#1a1a1a" textLength="54.72" lengthAdjust="spacingAndGlyphs">−20</text>
<text x="69.36" y="682.0" font-size="31.0" fill="#1a1a1a" textLength="54.72" lengthAdjust="spacingAndGlyphs">−30</text>
<text x="136.82" y="779.34" font-size="31.0" fill="#1a1a1a" textLength="20.72" lengthAdjust="spacingAndGlyphs">0</text>
<text x="308.18" y="779.82" font-size="31.0" fill="#1a1a1a" textLength="37.9" lengthAdjust="spacingAndGlyphs">20</text>
<text x="489.0" y="780.0" font-size="31.0" fill="#1a1a1a" textLength="40.08" lengthAdjust="spacingAndGlyphs">40</text>
<text x="671.18" y="780.0" font-size="31.0" fill="#1a1a1a" textLength="38.9" lengthAdjust="spacingAndGlyphs">60</text>
<text x="852.28" y="780.0" font-size="31.0" fill="#1a1a1a" textLength="38.9" lengthAdjust="spacingAndGlyphs">80</text>
<text x="1024.2" y="780.0" font-size="31.0" fill="#1a1a1a" textLength="53.98" lengthAdjust="spacingAndGlyphs">100</text>
<text x="214.38" y="87.76" font-size="56.45" font-weight="bold" fill="#c1001b" textLength="34.98" lengthAdjust="spacingAndGlyphs">F</text>
<text x="395.28" y="87.76" font-size="56.45" font-weight="bold" fill="#dc4510" textLength="46.16" lengthAdjust="spacingAndGlyphs">D</text>
<text x="575.36" y="87.76" font-size="56.45" font-weight="bold" fill="#dcb14e" textLength="41.18" lengthAdjust="spacingAndGlyphs">C</text>
<text x="757.84" y="87.76" font-size="56.45" font-weight="bold" fill="#a6d594" textLength="43.06" lengthAdjust="spacingAndGlyphs">B</text>
<text x="936.36" y="87.76" font-size="56.45" font-weight="bold" fill="#1a9e48" textLength="46.72" lengthAdjust="spacingAndGlyphs">A</text>
<text transform="translate(58.7 418.8) rotate(-90)" x="0" y="0" font-size="18" fill="#333" text-anchor="middle" textLength="212.4" lengthAdjust="spacingAndGlyphs">5-year trailing returns</text>
</svg>
</body></html>
